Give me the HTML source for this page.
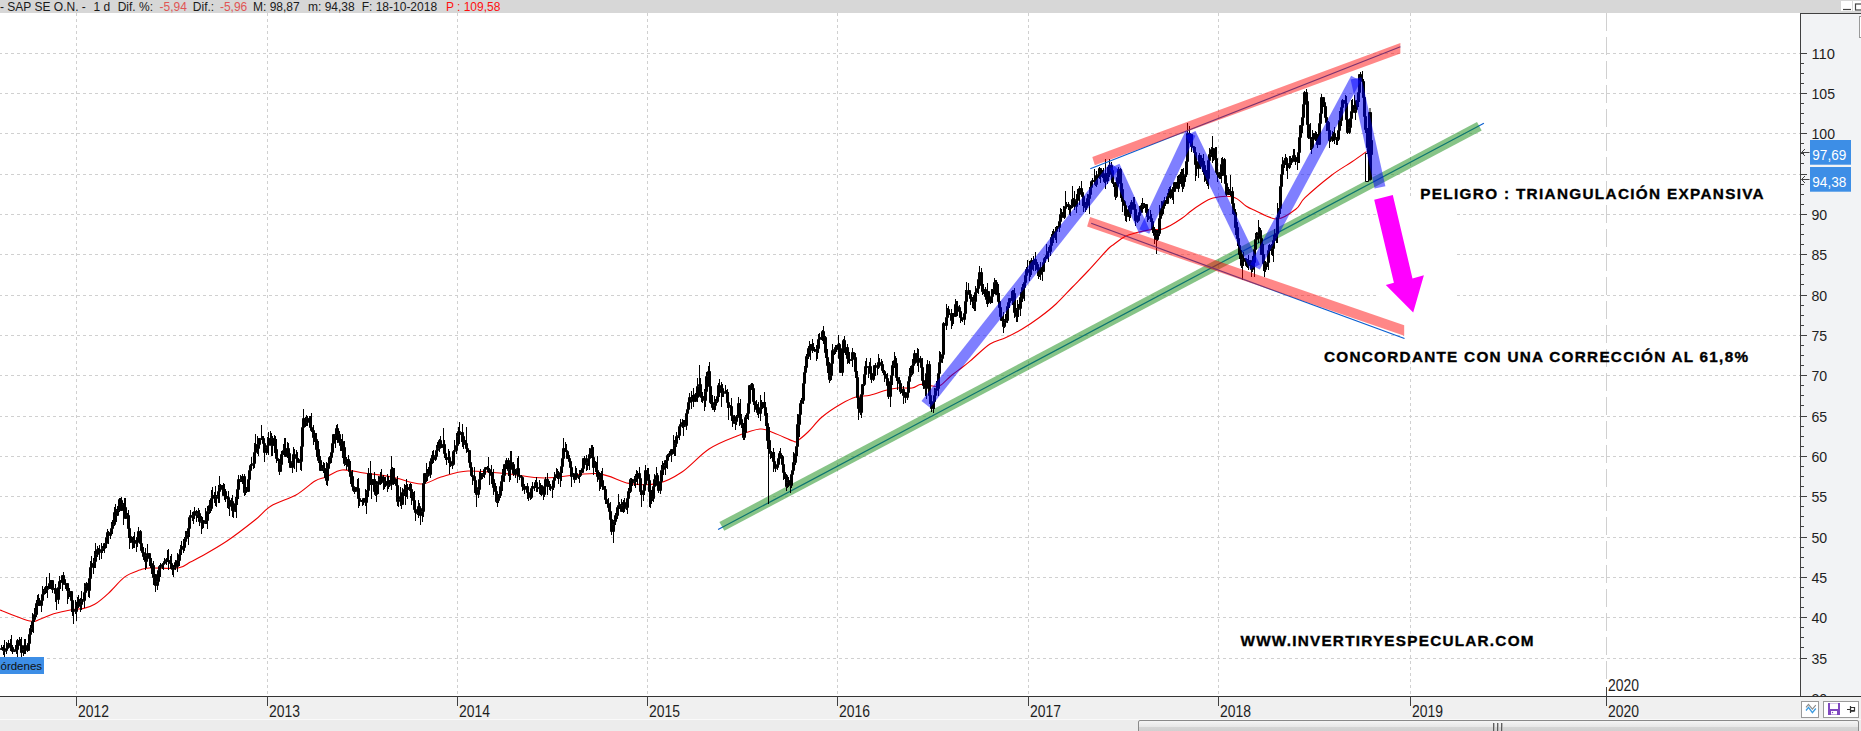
<!DOCTYPE html><html><head><meta charset="utf-8"><style>html,body{margin:0;padding:0;background:#fff;width:1861px;height:731px;overflow:hidden}svg{display:block;font-family:"Liberation Sans",sans-serif}</style></head><body>
<svg width="1861" height="731" viewBox="0 0 1861 731">
<rect x="0" y="0" width="1861" height="731" fill="#fff"/>
<path d="M-1 658.5H1800M-1 617.5H1800M-1 577.5H1800M-1 537.5H1800M-1 496.5H1800M-1 456.5H1800M-1 416.5H1800M-1 375.5H1800M-1 335.5H1800M-1 295.5H1800M-1 254.5H1800M-1 214.5H1800M-1 174.5H1800M-1 133.5H1800M-1 93.5H1800M-1 53.5H1800" stroke="#d0d0d0" stroke-width="1" stroke-dasharray="3 3" fill="none"/>
<path d="M76.5 13V696M267.5 13V696M457.5 13V696M647.5 13V696M837.5 13V696M1028.5 13V696M1218.5 13V696M1410.5 13V696" stroke="#d0d0d0" stroke-width="1" stroke-dasharray="3 3" fill="none"/>
<path d="M1606.5 13V680" stroke="#d0d0d0" stroke-width="1" stroke-dasharray="18 6" fill="none"/>
<rect x="1376" y="196" width="81" height="124" fill="#fff"/><rect x="1404" y="320" width="47" height="36" fill="#fff"/>
<line x1="718.1" y1="529.5" x2="1483.9" y2="123.3" stroke="#0a5fd0" stroke-width="1.2"/>
<polygon points="719.4,522.1 1477,122.1 1481.7,130.6 724.3,530.7" fill="#108a10" fill-opacity="0.5"/>
<path d="M0,610C5.0,611.8 23.3,619.5 30,621C36.7,622.5 36.0,620.5 40,619.3C44.0,618.1 48.5,615.4 53.7,613.8C59.0,612.2 66.5,610.6 71.5,609.7C76.5,608.8 79.9,609.3 83.8,608.4C87.7,607.5 90.6,606.8 94.7,604.3C98.8,601.8 103.4,597.9 108.4,593.3C113.4,588.7 119.6,580.8 124.8,576.9C130.0,573.0 135.7,571.6 139.8,570.1C143.9,568.6 143.0,568.4 149.4,568C155.8,567.6 171.3,569.0 178.1,568C184.9,567.0 186.8,563.7 190.4,561.9C194.1,560.1 193.9,560.6 200,557.1C206.1,553.6 217.8,547.2 227,541C236.2,534.8 247.7,525.8 255,520C262.3,514.2 264.2,510.2 271,506C277.8,501.8 288.7,499.2 296,495C303.3,490.8 310.0,484.0 315,481C320.0,478.0 321.5,478.8 326,477C330.5,475.2 335.7,470.7 342,470C348.3,469.3 355.7,471.8 364,473C372.3,474.2 382.5,475.2 392,477C401.5,478.8 412.8,484.0 421,484C429.2,484.0 433.2,479.2 441,477C448.8,474.8 456.7,471.5 468,471C479.3,470.5 496.2,472.8 509,474C521.8,475.2 530.3,478.1 545,478C559.7,477.9 583.0,472.7 597,473.6C611.0,474.5 618.8,481.8 629,483.4C639.2,485.0 649.2,485.3 658,483.4C666.8,481.5 673.5,477.7 682,472C690.5,466.3 699.8,455.0 709,449C718.2,443.0 728.5,439.3 737,436C745.5,432.7 753.8,429.5 760,429C766.2,428.5 768.5,431.0 774,433C779.5,435.0 789.2,439.7 793,441C796.8,442.3 794.5,442.5 797,441C799.5,439.5 803.8,436.0 808,432C812.2,428.0 816.5,421.7 822,417C827.5,412.3 835.3,407.3 841,404C846.7,400.7 851.2,398.4 856,397C860.8,395.6 865.0,396.4 870,395.3C875.0,394.2 881.3,391.5 886,390.3C890.7,389.1 893.7,388.4 898,388C902.3,387.6 908.3,388.6 912,388C915.7,387.4 917.5,385.0 920,384.5C922.5,384.0 924.3,384.7 927,385C929.7,385.3 933.7,386.5 936,386.5C938.3,386.5 938.3,386.9 941,385C943.7,383.1 948.3,378.0 952,375C955.7,372.0 959.5,369.6 963,366.8C966.5,364.1 968.5,362.3 973,358.5C977.5,354.7 984.5,347.5 990,344C995.5,340.5 1000.5,340.2 1006,337.6C1011.5,335.0 1017.5,331.8 1023,328.5C1028.5,325.2 1033.5,321.9 1039,317.8C1044.5,313.7 1050.5,309.1 1056,304C1061.5,298.9 1066.7,293.0 1072,287.5C1077.3,282.0 1082.0,277.4 1088,271C1094.0,264.6 1103.7,253.5 1108,249C1112.3,244.5 1111.2,246.3 1114,244.2C1116.8,242.1 1121.0,238.4 1125,236.4C1129.0,234.4 1133.5,233.5 1138,232.3C1142.5,231.1 1148.2,229.9 1152,229.4C1155.8,228.9 1158.0,230.0 1161,229.4C1164.0,228.8 1166.5,227.5 1170,225.7C1173.5,223.8 1178.7,220.6 1182,218.3C1185.3,216.0 1187.0,214.1 1190,211.8C1193.0,209.6 1196.2,207.1 1200,204.8C1203.8,202.5 1207.5,199.3 1213,198C1218.5,196.7 1227.5,195.7 1233,197C1238.5,198.3 1242.5,203.8 1246,206C1249.5,208.2 1248.8,207.8 1254,210C1259.2,212.2 1270.0,219.2 1277,219C1284.0,218.8 1291.3,212.6 1296,209C1300.7,205.4 1299.1,203.3 1305,197.7C1310.9,192.1 1323.8,181.2 1331.6,175.2C1339.4,169.2 1346.2,165.7 1352,161.8C1357.8,157.9 1364.1,153.3 1366.5,151.6" stroke="#ee0000" stroke-width="1.1" fill="none"/>
<g stroke="#000" stroke-width="1"><path d="M1.5 645V650M0.5 648.5h2V649.5h-2z" fill="#000"/><path d="M2.5 647V650M1.5 647.5h2V648.5h-2z" fill="#fff"/><path d="M3.5 645V655M2.5 647.5h2V650.5h-2z" fill="#000"/><path d="M4.5 640V663M3.5 650.5h2V651.5h-2z" fill="#fff"/><path d="M6.5 642V654M5.5 648.5h2V650.5h-2z" fill="#fff"/><path d="M7.5 644V649M6.5 643.5h2V648.5h-2z" fill="#fff"/><path d="M8.5 640V645M7.5 643.5h2V644.5h-2z" fill="#fff"/><path d="M10.5 639V651M9.5 643.5h2V647.5h-2z" fill="#000"/><path d="M11.5 635V649M10.5 647.5h2V648.5h-2z" fill="#000"/><path d="M12.5 645V654M11.5 647.5h2V651.5h-2z" fill="#000"/><path d="M14.5 650V652M13.5 650.5h2V651.5h-2z" fill="#fff"/><path d="M15.5 645V651M14.5 649.5h2V650.5h-2z" fill="#fff"/><path d="M16.5 646V654M15.5 649.5h2V650.5h-2z" fill="#000"/><path d="M17.5 639V657M16.5 640.5h2V649.5h-2z" fill="#fff"/><path d="M19.5 637V645M18.5 640.5h2V643.5h-2z" fill="#000"/><path d="M20.5 639V650M19.5 643.5h2V645.5h-2z" fill="#000"/><path d="M21.5 637V662M20.5 645.5h2V652.5h-2z" fill="#000"/><path d="M23.5 650V656M22.5 649.5h2V652.5h-2z" fill="#fff"/><path d="M24.5 639V654M23.5 645.5h2V649.5h-2z" fill="#fff"/><path d="M25.5 639V654M24.5 645.5h2V646.5h-2z" fill="#000"/><path d="M27.5 643V652M26.5 646.5h2V650.5h-2z" fill="#000"/><path d="M28.5 635V651M27.5 643.5h2V650.5h-2z" fill="#fff"/><path d="M29.5 629V645M28.5 634.5h2V643.5h-2z" fill="#fff"/><path d="M30.5 625V639M29.5 628.5h2V634.5h-2z" fill="#fff"/><path d="M32.5 613V632M31.5 621.5h2V628.5h-2z" fill="#fff"/><path d="M33.5 620V633M32.5 619.5h2V621.5h-2z" fill="#fff"/><path d="M34.5 608V622M33.5 614.5h2V619.5h-2z" fill="#fff"/><path d="M36.5 600V617M35.5 603.5h2V614.5h-2z" fill="#fff"/><path d="M37.5 595V609M36.5 603.5h2V605.5h-2z" fill="#000"/><path d="M38.5 594V606M37.5 601.5h2V605.5h-2z" fill="#fff"/><path d="M39.5 598V606M38.5 601.5h2V605.5h-2z" fill="#000"/><path d="M41.5 598V612M40.5 600.5h2V605.5h-2z" fill="#fff"/><path d="M42.5 586V601M41.5 594.5h2V600.5h-2z" fill="#fff"/><path d="M43.5 589V597M42.5 590.5h2V594.5h-2z" fill="#fff"/><path d="M45.5 586V594M44.5 587.5h2V590.5h-2z" fill="#fff"/><path d="M46.5 577V593M45.5 587.5h2V589.5h-2z" fill="#000"/><path d="M47.5 586V598M46.5 588.5h2V589.5h-2z" fill="#fff"/><path d="M49.5 573V588M48.5 583.5h2V588.5h-2z" fill="#fff"/><path d="M50.5 580V589M49.5 580.5h2V583.5h-2z" fill="#fff"/><path d="M51.5 580V587M50.5 580.5h2V581.5h-2z" fill="#000"/><path d="M52.5 580V593M51.5 580.5h2V589.5h-2z" fill="#000"/><path d="M54.5 589V592M53.5 588.5h2V589.5h-2z" fill="#fff"/><path d="M55.5 584V602M54.5 588.5h2V593.5h-2z" fill="#000"/><path d="M56.5 590V610M55.5 593.5h2V599.5h-2z" fill="#000"/><path d="M58.5 587V604M57.5 587.5h2V599.5h-2z" fill="#fff"/><path d="M59.5 576V590M58.5 581.5h2V587.5h-2z" fill="#fff"/><path d="M60.5 580V589M59.5 581.5h2V582.5h-2z" fill="#000"/><path d="M62.5 575V591M61.5 575.5h2V582.5h-2z" fill="#fff"/><path d="M63.5 572V580M62.5 575.5h2V579.5h-2z" fill="#000"/><path d="M64.5 579V585M63.5 579.5h2V584.5h-2z" fill="#000"/><path d="M65.5 583V589M64.5 583.5h2V584.5h-2z" fill="#fff"/><path d="M67.5 583V604M66.5 583.5h2V590.5h-2z" fill="#000"/><path d="M68.5 590V599M67.5 590.5h2V593.5h-2z" fill="#000"/><path d="M69.5 588V597M68.5 591.5h2V593.5h-2z" fill="#fff"/><path d="M71.5 591V612M70.5 591.5h2V600.5h-2z" fill="#000"/><path d="M72.5 595V616M71.5 600.5h2V609.5h-2z" fill="#000"/><path d="M73.5 602V624M72.5 609.5h2V610.5h-2z" fill="#000"/><path d="M75.5 600V614M74.5 610.5h2V611.5h-2z" fill="#000"/><path d="M76.5 602V621M75.5 605.5h2V611.5h-2z" fill="#fff"/><path d="M77.5 597V610M76.5 605.5h2V606.5h-2z" fill="#000"/><path d="M78.5 595V608M77.5 599.5h2V606.5h-2z" fill="#fff"/><path d="M80.5 598V612M79.5 599.5h2V604.5h-2z" fill="#000"/><path d="M81.5 591V610M80.5 601.5h2V604.5h-2z" fill="#fff"/><path d="M82.5 599V603M81.5 600.5h2V601.5h-2z" fill="#fff"/><path d="M84.5 583V608M83.5 592.5h2V600.5h-2z" fill="#fff"/><path d="M85.5 585V595M84.5 586.5h2V592.5h-2z" fill="#fff"/><path d="M86.5 582V587M85.5 583.5h2V586.5h-2z" fill="#fff"/><path d="M88.5 581V597M87.5 583.5h2V590.5h-2z" fill="#000"/><path d="M89.5 576V598M88.5 578.5h2V590.5h-2z" fill="#fff"/><path d="M90.5 561V582M89.5 567.5h2V578.5h-2z" fill="#fff"/><path d="M91.5 556V575M90.5 563.5h2V567.5h-2z" fill="#fff"/><path d="M93.5 558V574M92.5 563.5h2V564.5h-2z" fill="#000"/><path d="M94.5 551V568M93.5 561.5h2V563.5h-2z" fill="#fff"/><path d="M95.5 543V568M94.5 554.5h2V561.5h-2z" fill="#fff"/><path d="M97.5 546V557M96.5 549.5h2V554.5h-2z" fill="#fff"/><path d="M98.5 548V552M97.5 549.5h2V551.5h-2z" fill="#000"/><path d="M99.5 545V560M98.5 551.5h2V552.5h-2z" fill="#000"/><path d="M101.5 543V559M100.5 549.5h2V551.5h-2z" fill="#fff"/><path d="M102.5 546V553M101.5 548.5h2V549.5h-2z" fill="#fff"/><path d="M103.5 547V551M102.5 548.5h2V549.5h-2z" fill="#fff"/><path d="M104.5 543V553M103.5 543.5h2V548.5h-2z" fill="#fff"/><path d="M106.5 535V548M105.5 537.5h2V543.5h-2z" fill="#fff"/><path d="M107.5 529V538M106.5 532.5h2V537.5h-2z" fill="#fff"/><path d="M108.5 531V544M107.5 532.5h2V535.5h-2z" fill="#000"/><path d="M110.5 529V539M109.5 532.5h2V535.5h-2z" fill="#fff"/><path d="M111.5 522V534M110.5 528.5h2V532.5h-2z" fill="#fff"/><path d="M112.5 520V534M111.5 524.5h2V528.5h-2z" fill="#fff"/><path d="M114.5 507V526M113.5 512.5h2V524.5h-2z" fill="#fff"/><path d="M115.5 504V518M114.5 512.5h2V514.5h-2z" fill="#000"/><path d="M116.5 509V522M115.5 514.5h2V515.5h-2z" fill="#000"/><path d="M117.5 506V516M116.5 510.5h2V515.5h-2z" fill="#fff"/><path d="M119.5 498V512M118.5 499.5h2V510.5h-2z" fill="#fff"/><path d="M120.5 498V504M119.5 499.5h2V500.5h-2z" fill="#000"/><path d="M121.5 497V510M120.5 500.5h2V510.5h-2z" fill="#000"/><path d="M123.5 503V525M122.5 504.5h2V510.5h-2z" fill="#fff"/><path d="M124.5 498V508M123.5 504.5h2V507.5h-2z" fill="#000"/><path d="M125.5 498V519M124.5 507.5h2V518.5h-2z" fill="#000"/><path d="M127.5 513V524M126.5 515.5h2V518.5h-2z" fill="#fff"/><path d="M128.5 510V538M127.5 515.5h2V528.5h-2z" fill="#000"/><path d="M129.5 528V549M128.5 528.5h2V536.5h-2z" fill="#000"/><path d="M130.5 535V543M129.5 536.5h2V538.5h-2z" fill="#000"/><path d="M132.5 537V549M131.5 538.5h2V542.5h-2z" fill="#000"/><path d="M133.5 536V548M132.5 542.5h2V543.5h-2z" fill="#000"/><path d="M134.5 532V548M133.5 540.5h2V543.5h-2z" fill="#fff"/><path d="M136.5 537V552M135.5 540.5h2V542.5h-2z" fill="#000"/><path d="M137.5 533V547M136.5 537.5h2V542.5h-2z" fill="#fff"/><path d="M138.5 527V540M137.5 531.5h2V537.5h-2z" fill="#fff"/><path d="M140.5 530V545M139.5 531.5h2V543.5h-2z" fill="#000"/><path d="M141.5 542V551M140.5 543.5h2V550.5h-2z" fill="#000"/><path d="M142.5 549V556M141.5 550.5h2V552.5h-2z" fill="#000"/><path d="M143.5 547V560M142.5 552.5h2V556.5h-2z" fill="#000"/><path d="M145.5 548V570M144.5 556.5h2V561.5h-2z" fill="#000"/><path d="M146.5 555V568M145.5 555.5h2V561.5h-2z" fill="#fff"/><path d="M147.5 544V558M146.5 553.5h2V555.5h-2z" fill="#fff"/><path d="M149.5 553V566M148.5 553.5h2V558.5h-2z" fill="#000"/><path d="M150.5 556V568M149.5 558.5h2V563.5h-2z" fill="#000"/><path d="M151.5 558V574M150.5 563.5h2V565.5h-2z" fill="#000"/><path d="M153.5 561V585M152.5 565.5h2V577.5h-2z" fill="#000"/><path d="M154.5 572V583M153.5 574.5h2V577.5h-2z" fill="#fff"/><path d="M155.5 574V592M154.5 574.5h2V585.5h-2z" fill="#000"/><path d="M157.5 578V590M156.5 581.5h2V585.5h-2z" fill="#fff"/><path d="M158.5 568V585M157.5 570.5h2V581.5h-2z" fill="#fff"/><path d="M159.5 565V575M158.5 566.5h2V570.5h-2z" fill="#fff"/><path d="M160.5 563V577M159.5 566.5h2V567.5h-2z" fill="#fff"/><path d="M162.5 563V569M161.5 564.5h2V566.5h-2z" fill="#fff"/><path d="M163.5 564V570M162.5 563.5h2V564.5h-2z" fill="#fff"/><path d="M164.5 558V564M163.5 561.5h2V563.5h-2z" fill="#fff"/><path d="M166.5 558V565M165.5 559.5h2V561.5h-2z" fill="#fff"/><path d="M167.5 550V562M166.5 559.5h2V560.5h-2z" fill="#000"/><path d="M168.5 549V570M167.5 560.5h2V561.5h-2z" fill="#000"/><path d="M170.5 556V567M169.5 560.5h2V563.5h-2z" fill="#000"/><path d="M171.5 554V569M170.5 563.5h2V568.5h-2z" fill="#000"/><path d="M172.5 568V575M171.5 568.5h2V569.5h-2z" fill="#000"/><path d="M173.5 565V577M172.5 567.5h2V569.5h-2z" fill="#fff"/><path d="M175.5 560V570M174.5 562.5h2V567.5h-2z" fill="#fff"/><path d="M176.5 561V567M175.5 562.5h2V566.5h-2z" fill="#000"/><path d="M177.5 553V572M176.5 560.5h2V566.5h-2z" fill="#fff"/><path d="M179.5 553V566M178.5 554.5h2V560.5h-2z" fill="#fff"/><path d="M180.5 545V559M179.5 549.5h2V554.5h-2z" fill="#fff"/><path d="M181.5 541V555M180.5 546.5h2V549.5h-2z" fill="#fff"/><path d="M183.5 539V553M182.5 546.5h2V547.5h-2z" fill="#000"/><path d="M184.5 537V551M183.5 541.5h2V547.5h-2z" fill="#fff"/><path d="M185.5 531V546M184.5 538.5h2V541.5h-2z" fill="#fff"/><path d="M186.5 531V541M185.5 534.5h2V538.5h-2z" fill="#fff"/><path d="M188.5 526V545M187.5 528.5h2V534.5h-2z" fill="#fff"/><path d="M189.5 517V537M188.5 517.5h2V528.5h-2z" fill="#fff"/><path d="M190.5 510V524M189.5 515.5h2V517.5h-2z" fill="#fff"/><path d="M192.5 512V521M191.5 515.5h2V516.5h-2z" fill="#000"/><path d="M193.5 513V524M192.5 515.5h2V516.5h-2z" fill="#fff"/><path d="M194.5 507V519M193.5 511.5h2V515.5h-2z" fill="#fff"/><path d="M196.5 510V522M195.5 511.5h2V513.5h-2z" fill="#000"/><path d="M197.5 511V518M196.5 513.5h2V514.5h-2z" fill="#fff"/><path d="M198.5 508V517M197.5 513.5h2V514.5h-2z" fill="#fff"/><path d="M199.5 510V526M198.5 513.5h2V521.5h-2z" fill="#000"/><path d="M201.5 516V534M200.5 521.5h2V522.5h-2z" fill="#fff"/><path d="M202.5 517V529M201.5 520.5h2V521.5h-2z" fill="#fff"/><path d="M203.5 520V528M202.5 520.5h2V522.5h-2z" fill="#000"/><path d="M205.5 508V524M204.5 522.5h2V523.5h-2z" fill="#000"/><path d="M206.5 514V524M205.5 520.5h2V522.5h-2z" fill="#fff"/><path d="M207.5 506V529M206.5 511.5h2V520.5h-2z" fill="#fff"/><path d="M209.5 500V514M208.5 505.5h2V511.5h-2z" fill="#fff"/><path d="M210.5 500V513M209.5 505.5h2V508.5h-2z" fill="#000"/><path d="M211.5 490V511M210.5 498.5h2V508.5h-2z" fill="#fff"/><path d="M212.5 487V499M211.5 495.5h2V498.5h-2z" fill="#fff"/><path d="M214.5 492V503M213.5 495.5h2V497.5h-2z" fill="#000"/><path d="M215.5 486V506M214.5 497.5h2V498.5h-2z" fill="#000"/><path d="M216.5 495V507M215.5 496.5h2V498.5h-2z" fill="#fff"/><path d="M218.5 485V503M217.5 491.5h2V496.5h-2z" fill="#fff"/><path d="M219.5 476V503M218.5 487.5h2V491.5h-2z" fill="#fff"/><path d="M220.5 484V489M219.5 485.5h2V487.5h-2z" fill="#fff"/><path d="M222.5 485V495M221.5 485.5h2V489.5h-2z" fill="#000"/><path d="M223.5 483V496M222.5 489.5h2V495.5h-2z" fill="#000"/><path d="M224.5 484V500M223.5 491.5h2V495.5h-2z" fill="#fff"/><path d="M225.5 489V502M224.5 491.5h2V498.5h-2z" fill="#000"/><path d="M227.5 496V508M226.5 497.5h2V498.5h-2z" fill="#fff"/><path d="M228.5 491V509M227.5 497.5h2V506.5h-2z" fill="#000"/><path d="M229.5 499V516M228.5 500.5h2V506.5h-2z" fill="#fff"/><path d="M231.5 498V504M230.5 500.5h2V501.5h-2z" fill="#000"/><path d="M232.5 495V517M231.5 501.5h2V510.5h-2z" fill="#000"/><path d="M233.5 507V518M232.5 510.5h2V511.5h-2z" fill="#000"/><path d="M235.5 497V512M234.5 503.5h2V510.5h-2z" fill="#fff"/><path d="M236.5 496V518M235.5 498.5h2V503.5h-2z" fill="#fff"/><path d="M237.5 485V505M236.5 489.5h2V498.5h-2z" fill="#fff"/><path d="M238.5 475V499M237.5 479.5h2V489.5h-2z" fill="#fff"/><path d="M240.5 475V482M239.5 479.5h2V480.5h-2z" fill="#000"/><path d="M241.5 476V482M240.5 479.5h2V480.5h-2z" fill="#fff"/><path d="M242.5 474V484M241.5 476.5h2V479.5h-2z" fill="#fff"/><path d="M244.5 474V496M243.5 476.5h2V492.5h-2z" fill="#000"/><path d="M245.5 487V495M244.5 489.5h2V492.5h-2z" fill="#fff"/><path d="M246.5 487V493M245.5 489.5h2V491.5h-2z" fill="#000"/><path d="M248.5 471V491M247.5 479.5h2V491.5h-2z" fill="#fff"/><path d="M249.5 469V483M248.5 470.5h2V479.5h-2z" fill="#fff"/><path d="M250.5 464V476M249.5 465.5h2V470.5h-2z" fill="#fff"/><path d="M251.5 457V469M250.5 464.5h2V465.5h-2z" fill="#fff"/><path d="M253.5 461V469M252.5 463.5h2V464.5h-2z" fill="#fff"/><path d="M254.5 443V468M253.5 452.5h2V463.5h-2z" fill="#fff"/><path d="M255.5 434V456M254.5 444.5h2V452.5h-2z" fill="#fff"/><path d="M257.5 436V454M256.5 444.5h2V448.5h-2z" fill="#000"/><path d="M258.5 438V456M257.5 444.5h2V448.5h-2z" fill="#fff"/><path d="M259.5 438V445M258.5 438.5h2V444.5h-2z" fill="#fff"/><path d="M261.5 425V440M260.5 438.5h2V439.5h-2z" fill="#fff"/><path d="M262.5 436V443M261.5 438.5h2V439.5h-2z" fill="#000"/><path d="M263.5 436V445M262.5 438.5h2V443.5h-2z" fill="#000"/><path d="M264.5 442V462M263.5 443.5h2V452.5h-2z" fill="#000"/><path d="M266.5 446V455M265.5 447.5h2V452.5h-2z" fill="#fff"/><path d="M267.5 437V453M266.5 445.5h2V447.5h-2z" fill="#fff"/><path d="M268.5 432V455M267.5 438.5h2V445.5h-2z" fill="#fff"/><path d="M270.5 431V445M269.5 438.5h2V439.5h-2z" fill="#000"/><path d="M271.5 433V456M270.5 438.5h2V445.5h-2z" fill="#000"/><path d="M272.5 436V456M271.5 438.5h2V445.5h-2z" fill="#fff"/><path d="M274.5 435V453M273.5 438.5h2V445.5h-2z" fill="#000"/><path d="M275.5 436V452M274.5 445.5h2V449.5h-2z" fill="#000"/><path d="M276.5 439V463M275.5 449.5h2V458.5h-2z" fill="#000"/><path d="M277.5 454V461M276.5 458.5h2V459.5h-2z" fill="#000"/><path d="M279.5 459V475M278.5 459.5h2V471.5h-2z" fill="#000"/><path d="M280.5 463V472M279.5 464.5h2V471.5h-2z" fill="#fff"/><path d="M281.5 451V465M280.5 454.5h2V464.5h-2z" fill="#fff"/><path d="M283.5 444V455M282.5 450.5h2V454.5h-2z" fill="#fff"/><path d="M284.5 438V453M283.5 448.5h2V450.5h-2z" fill="#fff"/><path d="M285.5 438V457M284.5 448.5h2V456.5h-2z" fill="#000"/><path d="M287.5 442V458M286.5 448.5h2V456.5h-2z" fill="#fff"/><path d="M288.5 443V463M287.5 448.5h2V453.5h-2z" fill="#000"/><path d="M289.5 450V465M288.5 453.5h2V461.5h-2z" fill="#000"/><path d="M290.5 459V468M289.5 461.5h2V467.5h-2z" fill="#000"/><path d="M292.5 458V473M291.5 462.5h2V467.5h-2z" fill="#fff"/><path d="M293.5 447V464M292.5 454.5h2V462.5h-2z" fill="#fff"/><path d="M294.5 449V469M293.5 454.5h2V457.5h-2z" fill="#000"/><path d="M296.5 450V472M295.5 457.5h2V458.5h-2z" fill="#000"/><path d="M297.5 452V460M296.5 458.5h2V459.5h-2z" fill="#000"/><path d="M298.5 458V463M297.5 459.5h2V462.5h-2z" fill="#000"/><path d="M300.5 460V470M299.5 461.5h2V462.5h-2z" fill="#fff"/><path d="M301.5 441V471M300.5 446.5h2V461.5h-2z" fill="#fff"/><path d="M302.5 424V451M301.5 427.5h2V446.5h-2z" fill="#fff"/><path d="M303.5 409V429M302.5 418.5h2V427.5h-2z" fill="#fff"/><path d="M305.5 417V427M304.5 418.5h2V420.5h-2z" fill="#000"/><path d="M306.5 415V426M305.5 420.5h2V422.5h-2z" fill="#000"/><path d="M307.5 416V426M306.5 418.5h2V422.5h-2z" fill="#fff"/><path d="M309.5 416V425M308.5 418.5h2V419.5h-2z" fill="#000"/><path d="M310.5 416V428M309.5 419.5h2V427.5h-2z" fill="#000"/><path d="M311.5 413V432M310.5 427.5h2V430.5h-2z" fill="#000"/><path d="M313.5 425V445M312.5 430.5h2V437.5h-2z" fill="#000"/><path d="M314.5 433V442M313.5 434.5h2V437.5h-2z" fill="#fff"/><path d="M315.5 433V446M314.5 434.5h2V439.5h-2z" fill="#000"/><path d="M316.5 433V457M315.5 439.5h2V449.5h-2z" fill="#000"/><path d="M318.5 441V463M317.5 449.5h2V460.5h-2z" fill="#000"/><path d="M319.5 455V466M318.5 460.5h2V461.5h-2z" fill="#fff"/><path d="M320.5 456V471M319.5 460.5h2V470.5h-2z" fill="#000"/><path d="M322.5 465V470M321.5 468.5h2V470.5h-2z" fill="#fff"/><path d="M323.5 462V473M322.5 468.5h2V469.5h-2z" fill="#000"/><path d="M324.5 463V478M323.5 468.5h2V469.5h-2z" fill="#fff"/><path d="M326.5 462V485M325.5 468.5h2V480.5h-2z" fill="#000"/><path d="M327.5 463V486M326.5 468.5h2V480.5h-2z" fill="#fff"/><path d="M328.5 461V476M327.5 463.5h2V468.5h-2z" fill="#fff"/><path d="M329.5 456V467M328.5 457.5h2V463.5h-2z" fill="#fff"/><path d="M331.5 449V463M330.5 452.5h2V457.5h-2z" fill="#fff"/><path d="M332.5 443V455M331.5 443.5h2V452.5h-2z" fill="#fff"/><path d="M333.5 434V445M332.5 434.5h2V443.5h-2z" fill="#fff"/><path d="M335.5 433V448M334.5 434.5h2V435.5h-2z" fill="#000"/><path d="M336.5 425V440M335.5 428.5h2V435.5h-2z" fill="#fff"/><path d="M337.5 424V443M336.5 428.5h2V434.5h-2z" fill="#000"/><path d="M339.5 431V444M338.5 434.5h2V442.5h-2z" fill="#000"/><path d="M340.5 440V451M339.5 442.5h2V445.5h-2z" fill="#000"/><path d="M341.5 439V451M340.5 441.5h2V445.5h-2z" fill="#fff"/><path d="M342.5 434V458M341.5 441.5h2V447.5h-2z" fill="#000"/><path d="M344.5 441V466M343.5 447.5h2V463.5h-2z" fill="#000"/><path d="M345.5 460V465M344.5 463.5h2V464.5h-2z" fill="#fff"/><path d="M346.5 457V470M345.5 459.5h2V463.5h-2z" fill="#fff"/><path d="M348.5 455V469M347.5 459.5h2V466.5h-2z" fill="#000"/><path d="M349.5 461V472M348.5 466.5h2V471.5h-2z" fill="#000"/><path d="M350.5 461V484M349.5 471.5h2V476.5h-2z" fill="#000"/><path d="M352.5 470V487M351.5 476.5h2V486.5h-2z" fill="#000"/><path d="M353.5 484V492M352.5 486.5h2V490.5h-2z" fill="#000"/><path d="M354.5 488V494M353.5 490.5h2V491.5h-2z" fill="#000"/><path d="M355.5 487V492M354.5 487.5h2V491.5h-2z" fill="#fff"/><path d="M357.5 479V489M356.5 487.5h2V488.5h-2z" fill="#000"/><path d="M358.5 478V508M357.5 488.5h2V498.5h-2z" fill="#000"/><path d="M359.5 489V506M358.5 498.5h2V500.5h-2z" fill="#000"/><path d="M361.5 500V502M360.5 500.5h2V501.5h-2z" fill="#000"/><path d="M362.5 500V506M361.5 500.5h2V501.5h-2z" fill="#000"/><path d="M363.5 498V505M362.5 498.5h2V501.5h-2z" fill="#fff"/><path d="M365.5 489V506M364.5 498.5h2V502.5h-2z" fill="#000"/><path d="M366.5 490V514M365.5 492.5h2V502.5h-2z" fill="#fff"/><path d="M367.5 490V495M366.5 490.5h2V492.5h-2z" fill="#fff"/><path d="M368.5 468V497M367.5 473.5h2V490.5h-2z" fill="#fff"/><path d="M370.5 461V485M369.5 473.5h2V481.5h-2z" fill="#000"/><path d="M371.5 481V499M370.5 481.5h2V484.5h-2z" fill="#000"/><path d="M372.5 480V485M371.5 479.5h2V484.5h-2z" fill="#fff"/><path d="M374.5 472V492M373.5 479.5h2V491.5h-2z" fill="#000"/><path d="M375.5 490V496M374.5 491.5h2V494.5h-2z" fill="#000"/><path d="M376.5 481V502M375.5 484.5h2V494.5h-2z" fill="#fff"/><path d="M378.5 476V494M377.5 481.5h2V484.5h-2z" fill="#fff"/><path d="M379.5 477V482M378.5 479.5h2V481.5h-2z" fill="#fff"/><path d="M380.5 472V485M379.5 476.5h2V479.5h-2z" fill="#fff"/><path d="M381.5 469V484M380.5 476.5h2V481.5h-2z" fill="#000"/><path d="M383.5 475V490M382.5 481.5h2V482.5h-2z" fill="#000"/><path d="M384.5 477V489M383.5 482.5h2V483.5h-2z" fill="#000"/><path d="M385.5 477V487M384.5 481.5h2V482.5h-2z" fill="#fff"/><path d="M387.5 474V492M386.5 481.5h2V485.5h-2z" fill="#000"/><path d="M388.5 476V489M387.5 485.5h2V486.5h-2z" fill="#fff"/><path d="M389.5 480V487M388.5 484.5h2V485.5h-2z" fill="#fff"/><path d="M391.5 456V490M390.5 469.5h2V484.5h-2z" fill="#fff"/><path d="M392.5 467V481M391.5 469.5h2V471.5h-2z" fill="#000"/><path d="M393.5 468V485M392.5 471.5h2V478.5h-2z" fill="#000"/><path d="M394.5 468V484M393.5 478.5h2V482.5h-2z" fill="#000"/><path d="M396.5 479V489M395.5 482.5h2V485.5h-2z" fill="#000"/><path d="M397.5 476V506M396.5 485.5h2V501.5h-2z" fill="#000"/><path d="M398.5 493V507M397.5 499.5h2V501.5h-2z" fill="#fff"/><path d="M400.5 487V506M399.5 496.5h2V499.5h-2z" fill="#fff"/><path d="M401.5 495V509M400.5 496.5h2V504.5h-2z" fill="#000"/><path d="M402.5 488V505M401.5 492.5h2V504.5h-2z" fill="#fff"/><path d="M404.5 484V496M403.5 489.5h2V492.5h-2z" fill="#fff"/><path d="M405.5 485V505M404.5 489.5h2V494.5h-2z" fill="#000"/><path d="M406.5 479V497M405.5 489.5h2V494.5h-2z" fill="#fff"/><path d="M407.5 484V499M406.5 487.5h2V489.5h-2z" fill="#fff"/><path d="M409.5 484V491M408.5 487.5h2V489.5h-2z" fill="#000"/><path d="M410.5 483V498M409.5 489.5h2V490.5h-2z" fill="#fff"/><path d="M411.5 484V505M410.5 489.5h2V493.5h-2z" fill="#000"/><path d="M413.5 492V502M412.5 493.5h2V500.5h-2z" fill="#000"/><path d="M414.5 491V512M413.5 500.5h2V509.5h-2z" fill="#000"/><path d="M415.5 506V521M414.5 509.5h2V512.5h-2z" fill="#000"/><path d="M417.5 509V515M416.5 512.5h2V513.5h-2z" fill="#000"/><path d="M418.5 500V518M417.5 506.5h2V513.5h-2z" fill="#fff"/><path d="M419.5 503V509M418.5 506.5h2V508.5h-2z" fill="#000"/><path d="M420.5 508V525M419.5 508.5h2V515.5h-2z" fill="#000"/><path d="M422.5 510V522M421.5 511.5h2V515.5h-2z" fill="#fff"/><path d="M423.5 475V517M422.5 483.5h2V511.5h-2z" fill="#fff"/><path d="M424.5 473V488M423.5 473.5h2V483.5h-2z" fill="#fff"/><path d="M426.5 463V482M425.5 473.5h2V476.5h-2z" fill="#000"/><path d="M427.5 469V481M426.5 474.5h2V476.5h-2z" fill="#fff"/><path d="M428.5 467V476M427.5 474.5h2V475.5h-2z" fill="#fff"/><path d="M430.5 460V478M429.5 461.5h2V474.5h-2z" fill="#fff"/><path d="M431.5 455V469M430.5 458.5h2V461.5h-2z" fill="#fff"/><path d="M432.5 451V464M431.5 455.5h2V458.5h-2z" fill="#fff"/><path d="M433.5 450V463M432.5 455.5h2V459.5h-2z" fill="#000"/><path d="M435.5 456V461M434.5 456.5h2V459.5h-2z" fill="#fff"/><path d="M436.5 445V457M435.5 450.5h2V456.5h-2z" fill="#fff"/><path d="M437.5 442V456M436.5 448.5h2V450.5h-2z" fill="#fff"/><path d="M439.5 439V452M438.5 440.5h2V448.5h-2z" fill="#fff"/><path d="M440.5 436V447M439.5 440.5h2V444.5h-2z" fill="#000"/><path d="M441.5 443V447M440.5 444.5h2V447.5h-2z" fill="#000"/><path d="M443.5 428V451M442.5 444.5h2V447.5h-2z" fill="#fff"/><path d="M444.5 440V458M443.5 444.5h2V453.5h-2z" fill="#000"/><path d="M445.5 450V460M444.5 453.5h2V457.5h-2z" fill="#000"/><path d="M446.5 457V465M445.5 457.5h2V459.5h-2z" fill="#000"/><path d="M448.5 449V463M447.5 457.5h2V459.5h-2z" fill="#fff"/><path d="M449.5 451V474M448.5 457.5h2V461.5h-2z" fill="#000"/><path d="M450.5 462V467M449.5 461.5h2V465.5h-2z" fill="#000"/><path d="M452.5 463V469M451.5 464.5h2V465.5h-2z" fill="#fff"/><path d="M453.5 450V465M452.5 451.5h2V464.5h-2z" fill="#fff"/><path d="M454.5 440V455M453.5 450.5h2V451.5h-2z" fill="#fff"/><path d="M456.5 433V454M455.5 445.5h2V450.5h-2z" fill="#fff"/><path d="M457.5 435V447M456.5 436.5h2V445.5h-2z" fill="#fff"/><path d="M458.5 427V440M457.5 431.5h2V436.5h-2z" fill="#fff"/><path d="M459.5 422V444M458.5 431.5h2V434.5h-2z" fill="#000"/><path d="M461.5 433V442M460.5 432.5h2V434.5h-2z" fill="#fff"/><path d="M462.5 424V447M461.5 432.5h2V436.5h-2z" fill="#000"/><path d="M463.5 434V449M462.5 436.5h2V444.5h-2z" fill="#000"/><path d="M465.5 440V445M464.5 443.5h2V444.5h-2z" fill="#fff"/><path d="M466.5 427V453M465.5 443.5h2V448.5h-2z" fill="#000"/><path d="M467.5 449V452M466.5 448.5h2V450.5h-2z" fill="#000"/><path d="M469.5 450V467M468.5 450.5h2V462.5h-2z" fill="#000"/><path d="M470.5 452V474M469.5 462.5h2V467.5h-2z" fill="#000"/><path d="M471.5 466V477M470.5 467.5h2V475.5h-2z" fill="#000"/><path d="M472.5 474V485M471.5 475.5h2V476.5h-2z" fill="#000"/><path d="M474.5 467V493M473.5 476.5h2V480.5h-2z" fill="#000"/><path d="M475.5 478V489M474.5 480.5h2V487.5h-2z" fill="#000"/><path d="M476.5 487V507M475.5 487.5h2V494.5h-2z" fill="#000"/><path d="M478.5 487V498M477.5 489.5h2V494.5h-2z" fill="#fff"/><path d="M479.5 472V494M478.5 479.5h2V489.5h-2z" fill="#fff"/><path d="M480.5 469V483M479.5 473.5h2V479.5h-2z" fill="#fff"/><path d="M482.5 473V479M481.5 473.5h2V476.5h-2z" fill="#000"/><path d="M483.5 471V477M482.5 474.5h2V476.5h-2z" fill="#fff"/><path d="M484.5 469V478M483.5 469.5h2V474.5h-2z" fill="#fff"/><path d="M485.5 467V470M484.5 467.5h2V469.5h-2z" fill="#fff"/><path d="M487.5 466V472M486.5 467.5h2V468.5h-2z" fill="#000"/><path d="M488.5 457V473M487.5 468.5h2V469.5h-2z" fill="#000"/><path d="M489.5 468V485M488.5 469.5h2V472.5h-2z" fill="#000"/><path d="M491.5 465V484M490.5 472.5h2V475.5h-2z" fill="#000"/><path d="M492.5 472V484M491.5 475.5h2V479.5h-2z" fill="#000"/><path d="M493.5 469V495M492.5 479.5h2V487.5h-2z" fill="#000"/><path d="M495.5 483V498M494.5 487.5h2V491.5h-2z" fill="#000"/><path d="M496.5 486V503M495.5 491.5h2V501.5h-2z" fill="#000"/><path d="M497.5 498V507M496.5 500.5h2V501.5h-2z" fill="#fff"/><path d="M498.5 494V503M497.5 495.5h2V500.5h-2z" fill="#fff"/><path d="M500.5 487V498M499.5 486.5h2V495.5h-2z" fill="#fff"/><path d="M501.5 480V494M500.5 481.5h2V486.5h-2z" fill="#fff"/><path d="M502.5 469V491M501.5 475.5h2V481.5h-2z" fill="#fff"/><path d="M504.5 464V482M503.5 464.5h2V475.5h-2z" fill="#fff"/><path d="M505.5 462V469M504.5 464.5h2V465.5h-2z" fill="#000"/><path d="M506.5 458V469M505.5 460.5h2V464.5h-2z" fill="#fff"/><path d="M508.5 458V476M507.5 460.5h2V470.5h-2z" fill="#000"/><path d="M509.5 465V482M508.5 469.5h2V470.5h-2z" fill="#fff"/><path d="M510.5 451V480M509.5 462.5h2V469.5h-2z" fill="#fff"/><path d="M511.5 451V468M510.5 462.5h2V464.5h-2z" fill="#000"/><path d="M513.5 462V476M512.5 464.5h2V473.5h-2z" fill="#000"/><path d="M514.5 469V475M513.5 473.5h2V474.5h-2z" fill="#000"/><path d="M515.5 470V478M514.5 469.5h2V474.5h-2z" fill="#fff"/><path d="M517.5 458V483M516.5 468.5h2V469.5h-2z" fill="#fff"/><path d="M518.5 456V476M517.5 468.5h2V475.5h-2z" fill="#000"/><path d="M519.5 472V480M518.5 475.5h2V476.5h-2z" fill="#000"/><path d="M521.5 475V479M520.5 476.5h2V477.5h-2z" fill="#000"/><path d="M522.5 477V491M521.5 477.5h2V486.5h-2z" fill="#000"/><path d="M523.5 486V490M522.5 486.5h2V489.5h-2z" fill="#000"/><path d="M524.5 484V494M523.5 486.5h2V489.5h-2z" fill="#fff"/><path d="M526.5 486V488M525.5 486.5h2V487.5h-2z" fill="#000"/><path d="M527.5 483V499M526.5 486.5h2V492.5h-2z" fill="#000"/><path d="M528.5 491V501M527.5 492.5h2V495.5h-2z" fill="#000"/><path d="M530.5 492V500M529.5 495.5h2V497.5h-2z" fill="#000"/><path d="M531.5 486V499M530.5 488.5h2V497.5h-2z" fill="#fff"/><path d="M532.5 482V497M531.5 486.5h2V488.5h-2z" fill="#fff"/><path d="M534.5 485V491M533.5 486.5h2V487.5h-2z" fill="#000"/><path d="M535.5 480V488M534.5 482.5h2V486.5h-2z" fill="#fff"/><path d="M536.5 477V492M535.5 482.5h2V487.5h-2z" fill="#000"/><path d="M537.5 486V492M536.5 487.5h2V488.5h-2z" fill="#fff"/><path d="M539.5 480V494M538.5 487.5h2V488.5h-2z" fill="#000"/><path d="M540.5 483V495M539.5 485.5h2V488.5h-2z" fill="#fff"/><path d="M541.5 485V496M540.5 485.5h2V493.5h-2z" fill="#000"/><path d="M543.5 493V500M542.5 493.5h2V494.5h-2z" fill="#000"/><path d="M544.5 486V497M543.5 486.5h2V494.5h-2z" fill="#fff"/><path d="M545.5 477V491M544.5 479.5h2V486.5h-2z" fill="#fff"/><path d="M547.5 473V495M546.5 479.5h2V485.5h-2z" fill="#000"/><path d="M548.5 484V486M547.5 485.5h2V486.5h-2z" fill="#000"/><path d="M549.5 481V490M548.5 485.5h2V486.5h-2z" fill="#000"/><path d="M550.5 484V491M549.5 486.5h2V487.5h-2z" fill="#000"/><path d="M552.5 483V498M551.5 487.5h2V488.5h-2z" fill="#000"/><path d="M553.5 478V490M552.5 480.5h2V487.5h-2z" fill="#fff"/><path d="M554.5 472V486M553.5 477.5h2V480.5h-2z" fill="#fff"/><path d="M556.5 468V477M555.5 474.5h2V477.5h-2z" fill="#fff"/><path d="M557.5 469V479M556.5 474.5h2V477.5h-2z" fill="#000"/><path d="M558.5 471V484M557.5 477.5h2V478.5h-2z" fill="#000"/><path d="M560.5 469V487M559.5 472.5h2V477.5h-2z" fill="#fff"/><path d="M561.5 463V481M560.5 466.5h2V472.5h-2z" fill="#fff"/><path d="M562.5 452V473M561.5 458.5h2V466.5h-2z" fill="#fff"/><path d="M563.5 438V463M562.5 448.5h2V458.5h-2z" fill="#fff"/><path d="M565.5 442V452M564.5 448.5h2V450.5h-2z" fill="#000"/><path d="M566.5 444V452M565.5 450.5h2V451.5h-2z" fill="#000"/><path d="M567.5 451V459M566.5 451.5h2V458.5h-2z" fill="#000"/><path d="M569.5 455V462M568.5 458.5h2V461.5h-2z" fill="#000"/><path d="M570.5 460V469M569.5 461.5h2V467.5h-2z" fill="#000"/><path d="M571.5 467V487M570.5 467.5h2V476.5h-2z" fill="#000"/><path d="M573.5 473V477M572.5 475.5h2V476.5h-2z" fill="#fff"/><path d="M574.5 475V483M573.5 475.5h2V479.5h-2z" fill="#000"/><path d="M575.5 466V480M574.5 473.5h2V479.5h-2z" fill="#fff"/><path d="M576.5 468V479M575.5 473.5h2V476.5h-2z" fill="#000"/><path d="M578.5 475V479M577.5 476.5h2V477.5h-2z" fill="#000"/><path d="M579.5 470V483M578.5 475.5h2V476.5h-2z" fill="#fff"/><path d="M580.5 470V477M579.5 472.5h2V475.5h-2z" fill="#fff"/><path d="M582.5 462V472M581.5 468.5h2V472.5h-2z" fill="#fff"/><path d="M583.5 458V471M582.5 458.5h2V468.5h-2z" fill="#fff"/><path d="M584.5 456V466M583.5 458.5h2V464.5h-2z" fill="#000"/><path d="M586.5 455V471M585.5 463.5h2V464.5h-2z" fill="#fff"/><path d="M587.5 459V470M586.5 462.5h2V463.5h-2z" fill="#fff"/><path d="M588.5 459V466M587.5 458.5h2V462.5h-2z" fill="#fff"/><path d="M589.5 448V470M588.5 454.5h2V458.5h-2z" fill="#fff"/><path d="M591.5 445V458M590.5 448.5h2V454.5h-2z" fill="#fff"/><path d="M592.5 445V463M591.5 448.5h2V457.5h-2z" fill="#000"/><path d="M593.5 447V475M592.5 457.5h2V467.5h-2z" fill="#000"/><path d="M595.5 461V472M594.5 462.5h2V467.5h-2z" fill="#fff"/><path d="M596.5 462V475M595.5 462.5h2V470.5h-2z" fill="#000"/><path d="M597.5 456V482M596.5 470.5h2V476.5h-2z" fill="#000"/><path d="M599.5 472V491M598.5 476.5h2V479.5h-2z" fill="#000"/><path d="M600.5 473V489M599.5 477.5h2V479.5h-2z" fill="#fff"/><path d="M601.5 471V482M600.5 477.5h2V480.5h-2z" fill="#000"/><path d="M602.5 468V490M601.5 480.5h2V486.5h-2z" fill="#000"/><path d="M604.5 487V495M603.5 486.5h2V489.5h-2z" fill="#000"/><path d="M605.5 486V504M604.5 489.5h2V499.5h-2z" fill="#000"/><path d="M606.5 498V504M605.5 499.5h2V503.5h-2z" fill="#000"/><path d="M608.5 498V510M607.5 503.5h2V507.5h-2z" fill="#000"/><path d="M609.5 504V512M608.5 507.5h2V511.5h-2z" fill="#000"/><path d="M610.5 502V522M609.5 511.5h2V519.5h-2z" fill="#000"/><path d="M611.5 513V535M610.5 519.5h2V531.5h-2z" fill="#000"/><path d="M613.5 520V543M612.5 524.5h2V531.5h-2z" fill="#fff"/><path d="M614.5 520V525M613.5 521.5h2V524.5h-2z" fill="#fff"/><path d="M615.5 513V525M614.5 515.5h2V521.5h-2z" fill="#fff"/><path d="M617.5 506V519M616.5 507.5h2V515.5h-2z" fill="#fff"/><path d="M618.5 494V511M617.5 505.5h2V507.5h-2z" fill="#fff"/><path d="M619.5 502V509M618.5 504.5h2V505.5h-2z" fill="#fff"/><path d="M621.5 499V512M620.5 504.5h2V511.5h-2z" fill="#000"/><path d="M622.5 502V512M621.5 505.5h2V511.5h-2z" fill="#fff"/><path d="M623.5 500V513M622.5 502.5h2V505.5h-2z" fill="#fff"/><path d="M624.5 498V512M623.5 502.5h2V507.5h-2z" fill="#000"/><path d="M626.5 501V510M625.5 507.5h2V508.5h-2z" fill="#000"/><path d="M627.5 498V514M626.5 498.5h2V507.5h-2z" fill="#fff"/><path d="M628.5 488V499M627.5 491.5h2V498.5h-2z" fill="#fff"/><path d="M630.5 478V493M629.5 479.5h2V491.5h-2z" fill="#fff"/><path d="M631.5 478V486M630.5 479.5h2V480.5h-2z" fill="#fff"/><path d="M632.5 479V486M631.5 479.5h2V482.5h-2z" fill="#000"/><path d="M634.5 476V486M633.5 481.5h2V482.5h-2z" fill="#fff"/><path d="M635.5 474V488M634.5 477.5h2V481.5h-2z" fill="#fff"/><path d="M636.5 470V482M635.5 477.5h2V478.5h-2z" fill="#fff"/><path d="M637.5 471V485M636.5 473.5h2V477.5h-2z" fill="#fff"/><path d="M639.5 467V480M638.5 473.5h2V478.5h-2z" fill="#000"/><path d="M640.5 474V495M639.5 478.5h2V491.5h-2z" fill="#000"/><path d="M641.5 490V498M640.5 491.5h2V494.5h-2z" fill="#000"/><path d="M643.5 489V501M642.5 490.5h2V494.5h-2z" fill="#fff"/><path d="M644.5 480V495M643.5 484.5h2V490.5h-2z" fill="#fff"/><path d="M645.5 465V485M644.5 470.5h2V484.5h-2z" fill="#fff"/><path d="M647.5 468V477M646.5 470.5h2V474.5h-2z" fill="#000"/><path d="M648.5 468V483M647.5 474.5h2V480.5h-2z" fill="#000"/><path d="M649.5 477V507M648.5 480.5h2V491.5h-2z" fill="#000"/><path d="M650.5 489V508M649.5 491.5h2V498.5h-2z" fill="#000"/><path d="M652.5 497V501M651.5 498.5h2V499.5h-2z" fill="#fff"/><path d="M653.5 483V502M652.5 486.5h2V498.5h-2z" fill="#fff"/><path d="M654.5 474V489M653.5 479.5h2V486.5h-2z" fill="#fff"/><path d="M656.5 467V483M655.5 475.5h2V479.5h-2z" fill="#fff"/><path d="M657.5 473V488M656.5 475.5h2V485.5h-2z" fill="#000"/><path d="M658.5 477V493M657.5 485.5h2V490.5h-2z" fill="#000"/><path d="M660.5 478V494M659.5 481.5h2V490.5h-2z" fill="#fff"/><path d="M661.5 465V488M660.5 470.5h2V481.5h-2z" fill="#fff"/><path d="M662.5 461V477M661.5 469.5h2V470.5h-2z" fill="#fff"/><path d="M663.5 463V475M662.5 465.5h2V469.5h-2z" fill="#fff"/><path d="M665.5 460V475M664.5 460.5h2V465.5h-2z" fill="#fff"/><path d="M666.5 460V468M665.5 460.5h2V461.5h-2z" fill="#000"/><path d="M667.5 454V469M666.5 455.5h2V460.5h-2z" fill="#fff"/><path d="M669.5 451V457M668.5 453.5h2V455.5h-2z" fill="#fff"/><path d="M670.5 453V455M669.5 453.5h2V454.5h-2z" fill="#000"/><path d="M671.5 449V462M670.5 449.5h2V454.5h-2z" fill="#fff"/><path d="M673.5 435V454M672.5 449.5h2V453.5h-2z" fill="#000"/><path d="M674.5 440V456M673.5 445.5h2V453.5h-2z" fill="#fff"/><path d="M675.5 442V456M674.5 443.5h2V445.5h-2z" fill="#fff"/><path d="M676.5 432V447M675.5 436.5h2V443.5h-2z" fill="#fff"/><path d="M678.5 430V438M677.5 435.5h2V436.5h-2z" fill="#fff"/><path d="M679.5 426V440M678.5 426.5h2V435.5h-2z" fill="#fff"/><path d="M680.5 419V431M679.5 424.5h2V426.5h-2z" fill="#fff"/><path d="M682.5 419V428M681.5 422.5h2V424.5h-2z" fill="#fff"/><path d="M683.5 420V436M682.5 422.5h2V425.5h-2z" fill="#000"/><path d="M684.5 420V427M683.5 425.5h2V426.5h-2z" fill="#fff"/><path d="M686.5 412V430M685.5 413.5h2V425.5h-2z" fill="#fff"/><path d="M687.5 405V419M686.5 409.5h2V413.5h-2z" fill="#fff"/><path d="M688.5 401V411M687.5 402.5h2V409.5h-2z" fill="#fff"/><path d="M689.5 393V405M688.5 397.5h2V402.5h-2z" fill="#fff"/><path d="M691.5 391V409M690.5 397.5h2V399.5h-2z" fill="#000"/><path d="M692.5 395V401M691.5 398.5h2V399.5h-2z" fill="#fff"/><path d="M693.5 388V407M692.5 398.5h2V401.5h-2z" fill="#000"/><path d="M695.5 393V402M694.5 394.5h2V401.5h-2z" fill="#fff"/><path d="M696.5 389V400M695.5 394.5h2V397.5h-2z" fill="#000"/><path d="M697.5 378V402M696.5 386.5h2V397.5h-2z" fill="#fff"/><path d="M699.5 365V391M698.5 384.5h2V386.5h-2z" fill="#fff"/><path d="M700.5 378V397M699.5 384.5h2V396.5h-2z" fill="#000"/><path d="M701.5 394V402M700.5 396.5h2V397.5h-2z" fill="#000"/><path d="M702.5 392V403M701.5 396.5h2V397.5h-2z" fill="#000"/><path d="M704.5 389V411M703.5 396.5h2V400.5h-2z" fill="#000"/><path d="M705.5 388V407M704.5 391.5h2V400.5h-2z" fill="#fff"/><path d="M706.5 372V394M705.5 376.5h2V391.5h-2z" fill="#fff"/><path d="M708.5 366V381M707.5 371.5h2V376.5h-2z" fill="#fff"/><path d="M709.5 362V392M708.5 371.5h2V386.5h-2z" fill="#000"/><path d="M710.5 381V404M709.5 386.5h2V402.5h-2z" fill="#000"/><path d="M712.5 395V410M711.5 402.5h2V407.5h-2z" fill="#000"/><path d="M713.5 403V410M712.5 407.5h2V409.5h-2z" fill="#000"/><path d="M714.5 396V412M713.5 405.5h2V409.5h-2z" fill="#fff"/><path d="M715.5 399V410M714.5 401.5h2V405.5h-2z" fill="#fff"/><path d="M717.5 386V403M716.5 396.5h2V401.5h-2z" fill="#fff"/><path d="M718.5 383V397M717.5 385.5h2V396.5h-2z" fill="#fff"/><path d="M719.5 379V397M718.5 385.5h2V392.5h-2z" fill="#000"/><path d="M721.5 382V407M720.5 388.5h2V392.5h-2z" fill="#fff"/><path d="M722.5 384V397M721.5 388.5h2V393.5h-2z" fill="#000"/><path d="M723.5 390V397M722.5 392.5h2V393.5h-2z" fill="#fff"/><path d="M725.5 385V393M724.5 391.5h2V392.5h-2z" fill="#fff"/><path d="M726.5 390V397M725.5 391.5h2V393.5h-2z" fill="#000"/><path d="M727.5 389V408M726.5 393.5h2V402.5h-2z" fill="#000"/><path d="M728.5 392V420M727.5 402.5h2V406.5h-2z" fill="#000"/><path d="M730.5 405V408M729.5 406.5h2V407.5h-2z" fill="#000"/><path d="M731.5 398V421M730.5 406.5h2V415.5h-2z" fill="#000"/><path d="M732.5 413V427M731.5 415.5h2V419.5h-2z" fill="#000"/><path d="M734.5 415V424M733.5 419.5h2V423.5h-2z" fill="#000"/><path d="M735.5 418V430M734.5 421.5h2V423.5h-2z" fill="#fff"/><path d="M736.5 415V425M735.5 416.5h2V421.5h-2z" fill="#fff"/><path d="M738.5 397V417M737.5 403.5h2V416.5h-2z" fill="#fff"/><path d="M739.5 403V426M738.5 403.5h2V417.5h-2z" fill="#000"/><path d="M740.5 399V423M739.5 417.5h2V419.5h-2z" fill="#000"/><path d="M741.5 414V428M740.5 419.5h2V424.5h-2z" fill="#000"/><path d="M743.5 423V440M742.5 424.5h2V437.5h-2z" fill="#000"/><path d="M744.5 433V440M743.5 432.5h2V437.5h-2z" fill="#fff"/><path d="M745.5 415V435M744.5 417.5h2V432.5h-2z" fill="#fff"/><path d="M747.5 404V419M746.5 413.5h2V417.5h-2z" fill="#fff"/><path d="M748.5 396V420M747.5 403.5h2V413.5h-2z" fill="#fff"/><path d="M749.5 385V404M748.5 385.5h2V403.5h-2z" fill="#fff"/><path d="M751.5 383V390M750.5 384.5h2V385.5h-2z" fill="#fff"/><path d="M752.5 383V393M751.5 384.5h2V388.5h-2z" fill="#000"/><path d="M753.5 386V405M752.5 388.5h2V401.5h-2z" fill="#000"/><path d="M754.5 392V412M753.5 401.5h2V404.5h-2z" fill="#000"/><path d="M756.5 400V412M755.5 404.5h2V409.5h-2z" fill="#000"/><path d="M757.5 404V415M756.5 409.5h2V412.5h-2z" fill="#000"/><path d="M758.5 402V418M757.5 412.5h2V413.5h-2z" fill="#000"/><path d="M760.5 395V421M759.5 407.5h2V413.5h-2z" fill="#fff"/><path d="M761.5 400V411M760.5 407.5h2V408.5h-2z" fill="#fff"/><path d="M762.5 402V409M761.5 402.5h2V407.5h-2z" fill="#fff"/><path d="M764.5 392V412M763.5 402.5h2V407.5h-2z" fill="#000"/><path d="M765.5 402V426M764.5 407.5h2V415.5h-2z" fill="#000"/><path d="M766.5 413V428M765.5 415.5h2V423.5h-2z" fill="#000"/><path d="M767.5 413V449M766.5 423.5h2V440.5h-2z" fill="#000"/><path d="M769.5 427V452M768.5 440.5h2V452.5h-2z" fill="#000"/><path d="M770.5 452V459M769.5 452.5h2V453.5h-2z" fill="#000"/><path d="M771.5 451V458M770.5 452.5h2V453.5h-2z" fill="#fff"/><path d="M773.5 448V472M772.5 452.5h2V461.5h-2z" fill="#000"/><path d="M774.5 452V468M773.5 461.5h2V467.5h-2z" fill="#000"/><path d="M775.5 467V472M774.5 467.5h2V468.5h-2z" fill="#000"/><path d="M777.5 462V470M776.5 464.5h2V467.5h-2z" fill="#fff"/><path d="M778.5 454V465M777.5 458.5h2V464.5h-2z" fill="#fff"/><path d="M779.5 451V459M778.5 453.5h2V458.5h-2z" fill="#fff"/><path d="M780.5 448V458M779.5 453.5h2V456.5h-2z" fill="#000"/><path d="M782.5 455V465M781.5 456.5h2V464.5h-2z" fill="#000"/><path d="M783.5 457V480M782.5 464.5h2V472.5h-2z" fill="#000"/><path d="M784.5 470V479M783.5 472.5h2V475.5h-2z" fill="#000"/><path d="M786.5 474V491M785.5 475.5h2V486.5h-2z" fill="#000"/><path d="M787.5 483V488M786.5 482.5h2V486.5h-2z" fill="#fff"/><path d="M788.5 477V487M787.5 480.5h2V482.5h-2z" fill="#fff"/><path d="M790.5 475V493M789.5 480.5h2V485.5h-2z" fill="#000"/><path d="M791.5 471V488M790.5 474.5h2V485.5h-2z" fill="#fff"/><path d="M792.5 469V477M791.5 470.5h2V474.5h-2z" fill="#fff"/><path d="M793.5 452V474M792.5 462.5h2V470.5h-2z" fill="#fff"/><path d="M795.5 453V465M794.5 453.5h2V462.5h-2z" fill="#fff"/><path d="M796.5 441V461M795.5 446.5h2V453.5h-2z" fill="#fff"/><path d="M797.5 414V456M796.5 424.5h2V446.5h-2z" fill="#fff"/><path d="M799.5 411V437M798.5 414.5h2V424.5h-2z" fill="#fff"/><path d="M800.5 400V414M799.5 403.5h2V414.5h-2z" fill="#fff"/><path d="M801.5 398V405M800.5 400.5h2V403.5h-2z" fill="#fff"/><path d="M803.5 383V404M802.5 383.5h2V400.5h-2z" fill="#fff"/><path d="M804.5 366V388M803.5 372.5h2V383.5h-2z" fill="#fff"/><path d="M805.5 365V375M804.5 367.5h2V372.5h-2z" fill="#fff"/><path d="M806.5 354V370M805.5 356.5h2V367.5h-2z" fill="#fff"/><path d="M808.5 346V359M807.5 348.5h2V356.5h-2z" fill="#fff"/><path d="M809.5 341V351M808.5 348.5h2V350.5h-2z" fill="#000"/><path d="M810.5 344V360M809.5 344.5h2V350.5h-2z" fill="#fff"/><path d="M812.5 339V353M811.5 344.5h2V347.5h-2z" fill="#000"/><path d="M813.5 343V351M812.5 347.5h2V349.5h-2z" fill="#000"/><path d="M814.5 347V352M813.5 349.5h2V350.5h-2z" fill="#000"/><path d="M816.5 345V361M815.5 349.5h2V351.5h-2z" fill="#000"/><path d="M817.5 345V359M816.5 348.5h2V351.5h-2z" fill="#fff"/><path d="M818.5 334V353M817.5 339.5h2V348.5h-2z" fill="#fff"/><path d="M819.5 333V345M818.5 337.5h2V339.5h-2z" fill="#fff"/><path d="M821.5 336V340M820.5 337.5h2V338.5h-2z" fill="#000"/><path d="M822.5 330V341M821.5 331.5h2V337.5h-2z" fill="#fff"/><path d="M823.5 326V344M822.5 331.5h2V337.5h-2z" fill="#000"/><path d="M825.5 336V358M824.5 337.5h2V352.5h-2z" fill="#000"/><path d="M826.5 344V362M825.5 352.5h2V357.5h-2z" fill="#000"/><path d="M827.5 349V373M826.5 357.5h2V365.5h-2z" fill="#000"/><path d="M829.5 362V383M828.5 365.5h2V379.5h-2z" fill="#000"/><path d="M830.5 367V381M829.5 375.5h2V379.5h-2z" fill="#fff"/><path d="M831.5 361V380M830.5 363.5h2V375.5h-2z" fill="#fff"/><path d="M832.5 344V368M831.5 350.5h2V363.5h-2z" fill="#fff"/><path d="M834.5 348V355M833.5 349.5h2V350.5h-2z" fill="#fff"/><path d="M835.5 345V354M834.5 347.5h2V349.5h-2z" fill="#fff"/><path d="M836.5 345V352M835.5 347.5h2V349.5h-2z" fill="#000"/><path d="M838.5 335V357M837.5 344.5h2V349.5h-2z" fill="#fff"/><path d="M839.5 343V367M838.5 344.5h2V358.5h-2z" fill="#000"/><path d="M840.5 357V373M839.5 358.5h2V372.5h-2z" fill="#000"/><path d="M842.5 346V376M841.5 348.5h2V372.5h-2z" fill="#fff"/><path d="M843.5 339V353M842.5 340.5h2V348.5h-2z" fill="#fff"/><path d="M844.5 336V353M843.5 340.5h2V352.5h-2z" fill="#000"/><path d="M845.5 346V355M844.5 347.5h2V352.5h-2z" fill="#fff"/><path d="M847.5 344V364M846.5 347.5h2V358.5h-2z" fill="#000"/><path d="M848.5 357V363M847.5 358.5h2V359.5h-2z" fill="#000"/><path d="M849.5 352V364M848.5 359.5h2V360.5h-2z" fill="#000"/><path d="M851.5 359V360M850.5 359.5h2V360.5h-2z" fill="#fff"/><path d="M852.5 348V367M851.5 352.5h2V359.5h-2z" fill="#fff"/><path d="M853.5 352V359M852.5 352.5h2V357.5h-2z" fill="#000"/><path d="M855.5 353V378M854.5 357.5h2V371.5h-2z" fill="#000"/><path d="M856.5 368V379M855.5 371.5h2V377.5h-2z" fill="#000"/><path d="M857.5 371V404M856.5 377.5h2V397.5h-2z" fill="#000"/><path d="M858.5 394V420M857.5 397.5h2V408.5h-2z" fill="#000"/><path d="M860.5 409V415M859.5 408.5h2V412.5h-2z" fill="#000"/><path d="M861.5 392V418M860.5 394.5h2V412.5h-2z" fill="#fff"/><path d="M862.5 384V405M861.5 384.5h2V394.5h-2z" fill="#fff"/><path d="M864.5 374V386M863.5 374.5h2V384.5h-2z" fill="#fff"/><path d="M865.5 361V377M864.5 366.5h2V374.5h-2z" fill="#fff"/><path d="M866.5 358V371M865.5 366.5h2V367.5h-2z" fill="#000"/><path d="M868.5 366V378M867.5 366.5h2V367.5h-2z" fill="#fff"/><path d="M869.5 362V372M868.5 366.5h2V367.5h-2z" fill="#fff"/><path d="M870.5 358V376M869.5 366.5h2V373.5h-2z" fill="#000"/><path d="M871.5 367V383M870.5 373.5h2V379.5h-2z" fill="#000"/><path d="M873.5 371V381M872.5 373.5h2V379.5h-2z" fill="#fff"/><path d="M874.5 366V375M873.5 365.5h2V373.5h-2z" fill="#fff"/><path d="M875.5 363V376M874.5 365.5h2V366.5h-2z" fill="#000"/><path d="M877.5 366V375M876.5 366.5h2V367.5h-2z" fill="#000"/><path d="M878.5 354V369M877.5 362.5h2V367.5h-2z" fill="#fff"/><path d="M879.5 358V365M878.5 362.5h2V364.5h-2z" fill="#000"/><path d="M881.5 359V367M880.5 364.5h2V365.5h-2z" fill="#000"/><path d="M882.5 361V373M881.5 364.5h2V370.5h-2z" fill="#000"/><path d="M883.5 370V375M882.5 370.5h2V371.5h-2z" fill="#000"/><path d="M884.5 370V382M883.5 371.5h2V374.5h-2z" fill="#000"/><path d="M886.5 374V383M885.5 374.5h2V378.5h-2z" fill="#000"/><path d="M887.5 373V386M886.5 378.5h2V385.5h-2z" fill="#000"/><path d="M888.5 380V399M887.5 385.5h2V396.5h-2z" fill="#000"/><path d="M890.5 378V407M889.5 381.5h2V396.5h-2z" fill="#fff"/><path d="M891.5 371V387M890.5 375.5h2V381.5h-2z" fill="#fff"/><path d="M892.5 361V385M891.5 365.5h2V375.5h-2z" fill="#fff"/><path d="M894.5 352V368M893.5 360.5h2V365.5h-2z" fill="#fff"/><path d="M895.5 356V370M894.5 360.5h2V363.5h-2z" fill="#000"/><path d="M896.5 358V381M895.5 363.5h2V377.5h-2z" fill="#000"/><path d="M897.5 376V390M896.5 377.5h2V380.5h-2z" fill="#000"/><path d="M899.5 377V387M898.5 380.5h2V383.5h-2z" fill="#000"/><path d="M900.5 381V394M899.5 383.5h2V391.5h-2z" fill="#000"/><path d="M901.5 385V393M900.5 389.5h2V391.5h-2z" fill="#fff"/><path d="M903.5 386V404M902.5 389.5h2V395.5h-2z" fill="#000"/><path d="M904.5 393V397M903.5 395.5h2V396.5h-2z" fill="#fff"/><path d="M905.5 392V403M904.5 395.5h2V397.5h-2z" fill="#000"/><path d="M907.5 390V400M906.5 392.5h2V397.5h-2z" fill="#fff"/><path d="M908.5 381V393M907.5 381.5h2V392.5h-2z" fill="#fff"/><path d="M909.5 368V382M908.5 376.5h2V381.5h-2z" fill="#fff"/><path d="M910.5 366V381M909.5 373.5h2V376.5h-2z" fill="#fff"/><path d="M912.5 359V375M911.5 365.5h2V373.5h-2z" fill="#fff"/><path d="M913.5 358V370M912.5 363.5h2V365.5h-2z" fill="#fff"/><path d="M914.5 350V364M913.5 353.5h2V363.5h-2z" fill="#fff"/><path d="M916.5 353V355M915.5 353.5h2V354.5h-2z" fill="#000"/><path d="M917.5 348V366M916.5 354.5h2V362.5h-2z" fill="#000"/><path d="M918.5 349V372M917.5 358.5h2V362.5h-2z" fill="#fff"/><path d="M920.5 356V363M919.5 358.5h2V359.5h-2z" fill="#000"/><path d="M921.5 360V371M920.5 359.5h2V367.5h-2z" fill="#000"/><path d="M922.5 358V382M921.5 367.5h2V380.5h-2z" fill="#000"/><path d="M923.5 378V389M922.5 380.5h2V385.5h-2z" fill="#000"/><path d="M925.5 383V396M924.5 385.5h2V388.5h-2z" fill="#000"/><path d="M926.5 367V399M925.5 373.5h2V388.5h-2z" fill="#fff"/><path d="M927.5 360V382M926.5 364.5h2V373.5h-2z" fill="#fff"/><path d="M929.5 361V404M928.5 364.5h2V395.5h-2z" fill="#000"/><path d="M930.5 394V407M929.5 395.5h2V403.5h-2z" fill="#000"/><path d="M931.5 402V412M930.5 403.5h2V408.5h-2z" fill="#000"/><path d="M933.5 397V413M932.5 401.5h2V408.5h-2z" fill="#fff"/><path d="M934.5 388V409M933.5 395.5h2V401.5h-2z" fill="#fff"/><path d="M935.5 391V397M934.5 390.5h2V395.5h-2z" fill="#fff"/><path d="M936.5 381V394M935.5 388.5h2V390.5h-2z" fill="#fff"/><path d="M938.5 370V396M937.5 373.5h2V388.5h-2z" fill="#fff"/><path d="M939.5 351V381M938.5 362.5h2V373.5h-2z" fill="#fff"/><path d="M940.5 352V363M939.5 358.5h2V362.5h-2z" fill="#fff"/><path d="M942.5 351V363M941.5 354.5h2V358.5h-2z" fill="#fff"/><path d="M943.5 322V355M942.5 323.5h2V354.5h-2z" fill="#fff"/><path d="M944.5 323V328M943.5 323.5h2V325.5h-2z" fill="#000"/><path d="M946.5 304V330M945.5 317.5h2V325.5h-2z" fill="#fff"/><path d="M947.5 308V318M946.5 309.5h2V317.5h-2z" fill="#fff"/><path d="M948.5 306V315M947.5 309.5h2V313.5h-2z" fill="#000"/><path d="M949.5 314V315M948.5 313.5h2V314.5h-2z" fill="#000"/><path d="M951.5 309V329M950.5 314.5h2V320.5h-2z" fill="#000"/><path d="M952.5 313V326M951.5 314.5h2V320.5h-2z" fill="#fff"/><path d="M953.5 313V324M952.5 314.5h2V316.5h-2z" fill="#000"/><path d="M955.5 299V317M954.5 304.5h2V316.5h-2z" fill="#fff"/><path d="M956.5 301V312M955.5 304.5h2V306.5h-2z" fill="#000"/><path d="M957.5 301V316M956.5 306.5h2V307.5h-2z" fill="#000"/><path d="M959.5 305V313M958.5 307.5h2V311.5h-2z" fill="#000"/><path d="M960.5 310V323M959.5 311.5h2V317.5h-2z" fill="#000"/><path d="M961.5 313V321M960.5 317.5h2V318.5h-2z" fill="#000"/><path d="M962.5 318V322M961.5 318.5h2V319.5h-2z" fill="#000"/><path d="M964.5 310V325M963.5 313.5h2V319.5h-2z" fill="#fff"/><path d="M965.5 290V315M964.5 301.5h2V313.5h-2z" fill="#fff"/><path d="M966.5 282V313M965.5 291.5h2V301.5h-2z" fill="#fff"/><path d="M968.5 283V294M967.5 290.5h2V291.5h-2z" fill="#fff"/><path d="M969.5 290V296M968.5 290.5h2V294.5h-2z" fill="#000"/><path d="M970.5 291V305M969.5 294.5h2V298.5h-2z" fill="#000"/><path d="M972.5 297V308M971.5 298.5h2V301.5h-2z" fill="#000"/><path d="M973.5 295V309M972.5 301.5h2V306.5h-2z" fill="#000"/><path d="M974.5 299V311M973.5 301.5h2V306.5h-2z" fill="#fff"/><path d="M975.5 286V311M974.5 292.5h2V301.5h-2z" fill="#fff"/><path d="M977.5 285V293M976.5 288.5h2V292.5h-2z" fill="#fff"/><path d="M978.5 277V294M977.5 279.5h2V288.5h-2z" fill="#fff"/><path d="M979.5 266V283M978.5 272.5h2V279.5h-2z" fill="#fff"/><path d="M981.5 268V290M980.5 272.5h2V285.5h-2z" fill="#000"/><path d="M982.5 279V295M981.5 285.5h2V291.5h-2z" fill="#000"/><path d="M983.5 284V294M982.5 289.5h2V291.5h-2z" fill="#fff"/><path d="M985.5 287V299M984.5 289.5h2V296.5h-2z" fill="#000"/><path d="M986.5 292V304M985.5 296.5h2V299.5h-2z" fill="#000"/><path d="M987.5 283V307M986.5 291.5h2V299.5h-2z" fill="#fff"/><path d="M988.5 292V304M987.5 291.5h2V301.5h-2z" fill="#000"/><path d="M990.5 298V304M989.5 301.5h2V302.5h-2z" fill="#000"/><path d="M991.5 289V303M990.5 296.5h2V302.5h-2z" fill="#fff"/><path d="M992.5 289V303M991.5 289.5h2V296.5h-2z" fill="#fff"/><path d="M994.5 278V294M993.5 282.5h2V289.5h-2z" fill="#fff"/><path d="M995.5 280V284M994.5 282.5h2V283.5h-2z" fill="#fff"/><path d="M996.5 280V295M995.5 282.5h2V294.5h-2z" fill="#000"/><path d="M998.5 284V306M997.5 294.5h2V301.5h-2z" fill="#000"/><path d="M999.5 293V310M998.5 301.5h2V307.5h-2z" fill="#000"/><path d="M1000.5 307V319M999.5 307.5h2V316.5h-2z" fill="#000"/><path d="M1001.5 308V321M1000.5 316.5h2V320.5h-2z" fill="#000"/><path d="M1003.5 312V333M1002.5 320.5h2V326.5h-2z" fill="#000"/><path d="M1004.5 319V328M1003.5 322.5h2V326.5h-2z" fill="#fff"/><path d="M1005.5 314V324M1004.5 320.5h2V322.5h-2z" fill="#fff"/><path d="M1007.5 306V323M1006.5 306.5h2V320.5h-2z" fill="#fff"/><path d="M1008.5 302V308M1007.5 302.5h2V306.5h-2z" fill="#fff"/><path d="M1009.5 298V308M1008.5 298.5h2V302.5h-2z" fill="#fff"/><path d="M1011.5 291V301M1010.5 298.5h2V300.5h-2z" fill="#000"/><path d="M1012.5 290V305M1011.5 291.5h2V300.5h-2z" fill="#fff"/><path d="M1013.5 290V299M1012.5 291.5h2V293.5h-2z" fill="#000"/><path d="M1014.5 288V318M1013.5 293.5h2V312.5h-2z" fill="#000"/><path d="M1016.5 308V322M1015.5 312.5h2V316.5h-2z" fill="#000"/><path d="M1017.5 300V322M1016.5 309.5h2V316.5h-2z" fill="#fff"/><path d="M1018.5 304V317M1017.5 308.5h2V309.5h-2z" fill="#fff"/><path d="M1020.5 292V316M1019.5 297.5h2V308.5h-2z" fill="#fff"/><path d="M1021.5 293V307M1020.5 297.5h2V298.5h-2z" fill="#000"/><path d="M1022.5 284V302M1021.5 287.5h2V298.5h-2z" fill="#fff"/><path d="M1024.5 281V301M1023.5 282.5h2V287.5h-2z" fill="#fff"/><path d="M1025.5 275V284M1024.5 275.5h2V282.5h-2z" fill="#fff"/><path d="M1026.5 267V277M1025.5 269.5h2V275.5h-2z" fill="#fff"/><path d="M1027.5 260V273M1026.5 269.5h2V270.5h-2z" fill="#000"/><path d="M1029.5 261V281M1028.5 270.5h2V272.5h-2z" fill="#000"/><path d="M1030.5 267V277M1029.5 269.5h2V272.5h-2z" fill="#fff"/><path d="M1031.5 258V275M1030.5 260.5h2V269.5h-2z" fill="#fff"/><path d="M1033.5 256V271M1032.5 260.5h2V264.5h-2z" fill="#000"/><path d="M1034.5 259V265M1033.5 259.5h2V264.5h-2z" fill="#fff"/><path d="M1035.5 252V271M1034.5 259.5h2V264.5h-2z" fill="#000"/><path d="M1037.5 262V276M1036.5 264.5h2V269.5h-2z" fill="#000"/><path d="M1038.5 268V279M1037.5 269.5h2V270.5h-2z" fill="#000"/><path d="M1039.5 268V277M1038.5 269.5h2V274.5h-2z" fill="#000"/><path d="M1040.5 262V280M1039.5 267.5h2V274.5h-2z" fill="#fff"/><path d="M1042.5 263V281M1041.5 267.5h2V271.5h-2z" fill="#000"/><path d="M1043.5 262V272M1042.5 262.5h2V271.5h-2z" fill="#fff"/><path d="M1044.5 257V265M1043.5 258.5h2V262.5h-2z" fill="#fff"/><path d="M1046.5 244V259M1045.5 255.5h2V258.5h-2z" fill="#fff"/><path d="M1047.5 252V257M1046.5 252.5h2V255.5h-2z" fill="#fff"/><path d="M1048.5 247V262M1047.5 251.5h2V252.5h-2z" fill="#fff"/><path d="M1050.5 243V256M1049.5 245.5h2V251.5h-2z" fill="#fff"/><path d="M1051.5 234V246M1050.5 237.5h2V245.5h-2z" fill="#fff"/><path d="M1052.5 231V242M1051.5 234.5h2V237.5h-2z" fill="#fff"/><path d="M1053.5 229V243M1052.5 234.5h2V237.5h-2z" fill="#000"/><path d="M1055.5 227V240M1054.5 231.5h2V237.5h-2z" fill="#fff"/><path d="M1056.5 226V243M1055.5 228.5h2V231.5h-2z" fill="#fff"/><path d="M1057.5 226V229M1056.5 227.5h2V228.5h-2z" fill="#fff"/><path d="M1059.5 219V232M1058.5 221.5h2V227.5h-2z" fill="#fff"/><path d="M1060.5 208V223M1059.5 214.5h2V221.5h-2z" fill="#fff"/><path d="M1061.5 209V218M1060.5 212.5h2V214.5h-2z" fill="#fff"/><path d="M1063.5 206V218M1062.5 212.5h2V217.5h-2z" fill="#000"/><path d="M1064.5 208V219M1063.5 208.5h2V217.5h-2z" fill="#fff"/><path d="M1065.5 191V213M1064.5 206.5h2V208.5h-2z" fill="#fff"/><path d="M1066.5 202V207M1065.5 204.5h2V206.5h-2z" fill="#fff"/><path d="M1068.5 202V210M1067.5 204.5h2V206.5h-2z" fill="#000"/><path d="M1069.5 206V215M1068.5 206.5h2V208.5h-2z" fill="#000"/><path d="M1070.5 205V216M1069.5 205.5h2V208.5h-2z" fill="#fff"/><path d="M1072.5 186V208M1071.5 199.5h2V205.5h-2z" fill="#fff"/><path d="M1073.5 198V200M1072.5 199.5h2V200.5h-2z" fill="#000"/><path d="M1074.5 191V210M1073.5 199.5h2V206.5h-2z" fill="#000"/><path d="M1076.5 194V213M1075.5 200.5h2V206.5h-2z" fill="#fff"/><path d="M1077.5 189V206M1076.5 194.5h2V200.5h-2z" fill="#fff"/><path d="M1078.5 191V199M1077.5 194.5h2V195.5h-2z" fill="#000"/><path d="M1079.5 186V205M1078.5 188.5h2V194.5h-2z" fill="#fff"/><path d="M1081.5 181V196M1080.5 188.5h2V192.5h-2z" fill="#000"/><path d="M1082.5 190V206M1081.5 192.5h2V196.5h-2z" fill="#000"/><path d="M1083.5 196V212M1082.5 196.5h2V205.5h-2z" fill="#000"/><path d="M1085.5 202V212M1084.5 205.5h2V207.5h-2z" fill="#000"/><path d="M1086.5 200V210M1085.5 205.5h2V207.5h-2z" fill="#fff"/><path d="M1087.5 194V207M1086.5 198.5h2V205.5h-2z" fill="#fff"/><path d="M1089.5 187V214M1088.5 194.5h2V198.5h-2z" fill="#fff"/><path d="M1090.5 182V195M1089.5 187.5h2V194.5h-2z" fill="#fff"/><path d="M1091.5 181V191M1090.5 181.5h2V187.5h-2z" fill="#fff"/><path d="M1092.5 178V184M1091.5 180.5h2V181.5h-2z" fill="#fff"/><path d="M1094.5 169V182M1093.5 180.5h2V181.5h-2z" fill="#000"/><path d="M1095.5 176V186M1094.5 181.5h2V184.5h-2z" fill="#000"/><path d="M1096.5 171V187M1095.5 175.5h2V184.5h-2z" fill="#fff"/><path d="M1098.5 174V178M1097.5 174.5h2V175.5h-2z" fill="#fff"/><path d="M1099.5 167V179M1098.5 168.5h2V174.5h-2z" fill="#fff"/><path d="M1100.5 168V183M1099.5 168.5h2V176.5h-2z" fill="#000"/><path d="M1102.5 170V178M1101.5 174.5h2V176.5h-2z" fill="#fff"/><path d="M1103.5 168V180M1102.5 174.5h2V176.5h-2z" fill="#000"/><path d="M1104.5 174V183M1103.5 176.5h2V181.5h-2z" fill="#000"/><path d="M1105.5 159V189M1104.5 173.5h2V181.5h-2z" fill="#fff"/><path d="M1107.5 167V184M1106.5 173.5h2V176.5h-2z" fill="#000"/><path d="M1108.5 165V181M1107.5 174.5h2V176.5h-2z" fill="#fff"/><path d="M1109.5 159V177M1108.5 165.5h2V174.5h-2z" fill="#fff"/><path d="M1111.5 162V173M1110.5 165.5h2V170.5h-2z" fill="#000"/><path d="M1112.5 171V184M1111.5 170.5h2V182.5h-2z" fill="#000"/><path d="M1113.5 180V187M1112.5 182.5h2V183.5h-2z" fill="#000"/><path d="M1115.5 182V200M1114.5 183.5h2V196.5h-2z" fill="#000"/><path d="M1116.5 183V198M1115.5 186.5h2V196.5h-2z" fill="#fff"/><path d="M1117.5 169V193M1116.5 177.5h2V186.5h-2z" fill="#fff"/><path d="M1118.5 167V181M1117.5 169.5h2V177.5h-2z" fill="#fff"/><path d="M1120.5 168V198M1119.5 169.5h2V183.5h-2z" fill="#000"/><path d="M1121.5 182V191M1120.5 183.5h2V189.5h-2z" fill="#000"/><path d="M1122.5 185V212M1121.5 189.5h2V201.5h-2z" fill="#000"/><path d="M1124.5 200V208M1123.5 201.5h2V205.5h-2z" fill="#000"/><path d="M1125.5 203V221M1124.5 205.5h2V215.5h-2z" fill="#000"/><path d="M1126.5 210V222M1125.5 215.5h2V216.5h-2z" fill="#000"/><path d="M1128.5 206V217M1127.5 209.5h2V215.5h-2z" fill="#fff"/><path d="M1129.5 205V221M1128.5 209.5h2V213.5h-2z" fill="#000"/><path d="M1130.5 206V218M1129.5 209.5h2V213.5h-2z" fill="#fff"/><path d="M1131.5 200V214M1130.5 202.5h2V209.5h-2z" fill="#fff"/><path d="M1133.5 197V207M1132.5 202.5h2V204.5h-2z" fill="#000"/><path d="M1134.5 197V212M1133.5 204.5h2V209.5h-2z" fill="#000"/><path d="M1135.5 206V226M1134.5 209.5h2V220.5h-2z" fill="#000"/><path d="M1137.5 217V223M1136.5 220.5h2V221.5h-2z" fill="#fff"/><path d="M1138.5 215V220M1137.5 215.5h2V220.5h-2z" fill="#fff"/><path d="M1139.5 206V219M1138.5 212.5h2V215.5h-2z" fill="#fff"/><path d="M1141.5 203V212M1140.5 205.5h2V212.5h-2z" fill="#fff"/><path d="M1142.5 198V212M1141.5 205.5h2V206.5h-2z" fill="#000"/><path d="M1143.5 203V209M1142.5 204.5h2V206.5h-2z" fill="#fff"/><path d="M1144.5 203V208M1143.5 204.5h2V205.5h-2z" fill="#fff"/><path d="M1146.5 204V215M1145.5 204.5h2V212.5h-2z" fill="#000"/><path d="M1147.5 211V222M1146.5 212.5h2V216.5h-2z" fill="#000"/><path d="M1148.5 209V220M1147.5 216.5h2V217.5h-2z" fill="#000"/><path d="M1150.5 210V222M1149.5 217.5h2V218.5h-2z" fill="#000"/><path d="M1151.5 214V224M1150.5 218.5h2V221.5h-2z" fill="#000"/><path d="M1152.5 221V233M1151.5 221.5h2V229.5h-2z" fill="#000"/><path d="M1154.5 227V244M1153.5 229.5h2V235.5h-2z" fill="#000"/><path d="M1155.5 232V240M1154.5 232.5h2V235.5h-2z" fill="#fff"/><path d="M1156.5 230V254M1155.5 232.5h2V239.5h-2z" fill="#000"/><path d="M1157.5 230V241M1156.5 233.5h2V239.5h-2z" fill="#fff"/><path d="M1159.5 205V236M1158.5 218.5h2V233.5h-2z" fill="#fff"/><path d="M1160.5 215V219M1159.5 215.5h2V218.5h-2z" fill="#fff"/><path d="M1161.5 201V217M1160.5 208.5h2V215.5h-2z" fill="#fff"/><path d="M1163.5 201V214M1162.5 201.5h2V208.5h-2z" fill="#fff"/><path d="M1164.5 197V202M1163.5 200.5h2V201.5h-2z" fill="#fff"/><path d="M1165.5 201V206M1164.5 200.5h2V203.5h-2z" fill="#000"/><path d="M1167.5 193V204M1166.5 196.5h2V203.5h-2z" fill="#fff"/><path d="M1168.5 189V199M1167.5 195.5h2V196.5h-2z" fill="#fff"/><path d="M1169.5 187V196M1168.5 190.5h2V195.5h-2z" fill="#fff"/><path d="M1170.5 186V199M1169.5 190.5h2V197.5h-2z" fill="#000"/><path d="M1172.5 187V200M1171.5 189.5h2V197.5h-2z" fill="#fff"/><path d="M1173.5 188V204M1172.5 189.5h2V191.5h-2z" fill="#000"/><path d="M1174.5 182V192M1173.5 182.5h2V191.5h-2z" fill="#fff"/><path d="M1176.5 182V188M1175.5 182.5h2V183.5h-2z" fill="#000"/><path d="M1177.5 176V189M1176.5 182.5h2V188.5h-2z" fill="#000"/><path d="M1178.5 175V192M1177.5 178.5h2V188.5h-2z" fill="#fff"/><path d="M1180.5 172V184M1179.5 174.5h2V178.5h-2z" fill="#fff"/><path d="M1181.5 169V186M1180.5 174.5h2V175.5h-2z" fill="#000"/><path d="M1182.5 169V192M1181.5 175.5h2V186.5h-2z" fill="#000"/><path d="M1183.5 168V189M1182.5 175.5h2V186.5h-2z" fill="#fff"/><path d="M1185.5 166V182M1184.5 174.5h2V175.5h-2z" fill="#fff"/><path d="M1186.5 155V177M1185.5 161.5h2V174.5h-2z" fill="#fff"/><path d="M1187.5 123V168M1186.5 133.5h2V161.5h-2z" fill="#fff"/><path d="M1189.5 126V143M1188.5 133.5h2V140.5h-2z" fill="#000"/><path d="M1190.5 134V145M1189.5 134.5h2V140.5h-2z" fill="#fff"/><path d="M1191.5 134V152M1190.5 134.5h2V146.5h-2z" fill="#000"/><path d="M1193.5 146V151M1192.5 146.5h2V147.5h-2z" fill="#000"/><path d="M1194.5 147V160M1193.5 147.5h2V152.5h-2z" fill="#000"/><path d="M1195.5 147V181M1194.5 152.5h2V164.5h-2z" fill="#000"/><path d="M1196.5 163V176M1195.5 164.5h2V168.5h-2z" fill="#000"/><path d="M1198.5 155V178M1197.5 161.5h2V168.5h-2z" fill="#fff"/><path d="M1199.5 153V164M1198.5 155.5h2V161.5h-2z" fill="#fff"/><path d="M1200.5 155V169M1199.5 155.5h2V159.5h-2z" fill="#000"/><path d="M1202.5 158V172M1201.5 159.5h2V166.5h-2z" fill="#000"/><path d="M1203.5 154V168M1202.5 165.5h2V166.5h-2z" fill="#fff"/><path d="M1204.5 161V182M1203.5 165.5h2V174.5h-2z" fill="#000"/><path d="M1206.5 170V184M1205.5 174.5h2V180.5h-2z" fill="#000"/><path d="M1207.5 168V186M1206.5 178.5h2V180.5h-2z" fill="#fff"/><path d="M1208.5 158V189M1207.5 160.5h2V178.5h-2z" fill="#fff"/><path d="M1209.5 148V168M1208.5 154.5h2V160.5h-2z" fill="#fff"/><path d="M1211.5 147V157M1210.5 149.5h2V154.5h-2z" fill="#fff"/><path d="M1212.5 136V163M1211.5 148.5h2V149.5h-2z" fill="#fff"/><path d="M1213.5 148V161M1212.5 148.5h2V159.5h-2z" fill="#000"/><path d="M1215.5 147V169M1214.5 158.5h2V159.5h-2z" fill="#fff"/><path d="M1216.5 147V173M1215.5 158.5h2V172.5h-2z" fill="#000"/><path d="M1217.5 167V182M1216.5 172.5h2V174.5h-2z" fill="#000"/><path d="M1219.5 172V179M1218.5 174.5h2V177.5h-2z" fill="#000"/><path d="M1220.5 171V179M1219.5 172.5h2V177.5h-2z" fill="#fff"/><path d="M1221.5 158V183M1220.5 164.5h2V172.5h-2z" fill="#fff"/><path d="M1222.5 157V176M1221.5 159.5h2V164.5h-2z" fill="#fff"/><path d="M1224.5 158V175M1223.5 159.5h2V175.5h-2z" fill="#000"/><path d="M1225.5 174V193M1224.5 175.5h2V183.5h-2z" fill="#000"/><path d="M1226.5 183V196M1225.5 183.5h2V194.5h-2z" fill="#000"/><path d="M1228.5 187V195M1227.5 191.5h2V194.5h-2z" fill="#fff"/><path d="M1229.5 189V195M1228.5 191.5h2V193.5h-2z" fill="#000"/><path d="M1230.5 175V196M1229.5 191.5h2V193.5h-2z" fill="#fff"/><path d="M1232.5 187V214M1231.5 191.5h2V203.5h-2z" fill="#000"/><path d="M1233.5 199V215M1232.5 203.5h2V210.5h-2z" fill="#000"/><path d="M1234.5 207V217M1233.5 210.5h2V212.5h-2z" fill="#000"/><path d="M1235.5 209V235M1234.5 212.5h2V227.5h-2z" fill="#000"/><path d="M1237.5 222V246M1236.5 227.5h2V238.5h-2z" fill="#000"/><path d="M1238.5 236V245M1237.5 238.5h2V245.5h-2z" fill="#000"/><path d="M1239.5 241V259M1238.5 245.5h2V254.5h-2z" fill="#000"/><path d="M1241.5 250V268M1240.5 254.5h2V265.5h-2z" fill="#000"/><path d="M1242.5 257V280M1241.5 259.5h2V265.5h-2z" fill="#fff"/><path d="M1243.5 252V266M1242.5 258.5h2V259.5h-2z" fill="#fff"/><path d="M1245.5 258V265M1244.5 258.5h2V261.5h-2z" fill="#000"/><path d="M1246.5 262V267M1245.5 261.5h2V265.5h-2z" fill="#000"/><path d="M1247.5 259V268M1246.5 265.5h2V266.5h-2z" fill="#000"/><path d="M1248.5 255V270M1247.5 260.5h2V265.5h-2z" fill="#fff"/><path d="M1250.5 260V266M1249.5 260.5h2V265.5h-2z" fill="#000"/><path d="M1251.5 262V277M1250.5 265.5h2V269.5h-2z" fill="#000"/><path d="M1252.5 256V272M1251.5 262.5h2V269.5h-2z" fill="#fff"/><path d="M1254.5 243V277M1253.5 249.5h2V262.5h-2z" fill="#fff"/><path d="M1255.5 233V255M1254.5 239.5h2V249.5h-2z" fill="#fff"/><path d="M1256.5 232V242M1255.5 235.5h2V239.5h-2z" fill="#fff"/><path d="M1258.5 220V243M1257.5 232.5h2V235.5h-2z" fill="#fff"/><path d="M1259.5 227V236M1258.5 230.5h2V232.5h-2z" fill="#fff"/><path d="M1260.5 228V240M1259.5 230.5h2V238.5h-2z" fill="#000"/><path d="M1261.5 238V254M1260.5 238.5h2V254.5h-2z" fill="#000"/><path d="M1263.5 244V271M1262.5 254.5h2V263.5h-2z" fill="#000"/><path d="M1264.5 263V277M1263.5 263.5h2V269.5h-2z" fill="#000"/><path d="M1265.5 261V272M1264.5 263.5h2V269.5h-2z" fill="#fff"/><path d="M1267.5 261V267M1266.5 262.5h2V263.5h-2z" fill="#fff"/><path d="M1268.5 245V270M1267.5 250.5h2V262.5h-2z" fill="#fff"/><path d="M1269.5 244V251M1268.5 245.5h2V250.5h-2z" fill="#fff"/><path d="M1271.5 244V255M1270.5 245.5h2V250.5h-2z" fill="#000"/><path d="M1272.5 244V256M1271.5 248.5h2V250.5h-2z" fill="#fff"/><path d="M1273.5 235V262M1272.5 240.5h2V248.5h-2z" fill="#fff"/><path d="M1274.5 229V241M1273.5 237.5h2V240.5h-2z" fill="#fff"/><path d="M1276.5 229V243M1275.5 233.5h2V237.5h-2z" fill="#fff"/><path d="M1277.5 203V243M1276.5 217.5h2V233.5h-2z" fill="#fff"/><path d="M1278.5 208V225M1277.5 208.5h2V217.5h-2z" fill="#fff"/><path d="M1280.5 187V214M1279.5 186.5h2V208.5h-2z" fill="#fff"/><path d="M1281.5 173V192M1280.5 174.5h2V186.5h-2z" fill="#fff"/><path d="M1282.5 157V175M1281.5 164.5h2V174.5h-2z" fill="#fff"/><path d="M1284.5 158V168M1283.5 160.5h2V164.5h-2z" fill="#fff"/><path d="M1285.5 154V165M1284.5 158.5h2V160.5h-2z" fill="#fff"/><path d="M1286.5 157V171M1285.5 158.5h2V163.5h-2z" fill="#000"/><path d="M1287.5 163V179M1286.5 163.5h2V167.5h-2z" fill="#000"/><path d="M1289.5 156V169M1288.5 164.5h2V167.5h-2z" fill="#fff"/><path d="M1290.5 156V165M1289.5 162.5h2V164.5h-2z" fill="#fff"/><path d="M1291.5 158V165M1290.5 158.5h2V162.5h-2z" fill="#fff"/><path d="M1293.5 149V161M1292.5 155.5h2V158.5h-2z" fill="#fff"/><path d="M1294.5 149V162M1293.5 155.5h2V161.5h-2z" fill="#000"/><path d="M1295.5 156V165M1294.5 157.5h2V161.5h-2z" fill="#fff"/><path d="M1297.5 153V170M1296.5 157.5h2V161.5h-2z" fill="#000"/><path d="M1298.5 145V163M1297.5 152.5h2V161.5h-2z" fill="#fff"/><path d="M1299.5 132V163M1298.5 137.5h2V152.5h-2z" fill="#fff"/><path d="M1300.5 125V139M1299.5 125.5h2V137.5h-2z" fill="#fff"/><path d="M1302.5 110V133M1301.5 117.5h2V125.5h-2z" fill="#fff"/><path d="M1303.5 103V120M1302.5 104.5h2V117.5h-2z" fill="#fff"/><path d="M1304.5 91V108M1303.5 92.5h2V104.5h-2z" fill="#fff"/><path d="M1306.5 89V105M1305.5 92.5h2V101.5h-2z" fill="#000"/><path d="M1307.5 100V131M1306.5 101.5h2V124.5h-2z" fill="#000"/><path d="M1308.5 123V139M1307.5 124.5h2V137.5h-2z" fill="#000"/><path d="M1310.5 123V150M1309.5 137.5h2V138.5h-2z" fill="#000"/><path d="M1311.5 137V154M1310.5 138.5h2V147.5h-2z" fill="#000"/><path d="M1312.5 130V149M1311.5 139.5h2V147.5h-2z" fill="#fff"/><path d="M1313.5 133V143M1312.5 133.5h2V139.5h-2z" fill="#fff"/><path d="M1315.5 131V141M1314.5 133.5h2V135.5h-2z" fill="#000"/><path d="M1316.5 132V138M1315.5 135.5h2V137.5h-2z" fill="#000"/><path d="M1317.5 134V148M1316.5 137.5h2V144.5h-2z" fill="#000"/><path d="M1319.5 122V145M1318.5 123.5h2V144.5h-2z" fill="#fff"/><path d="M1320.5 112V130M1319.5 113.5h2V123.5h-2z" fill="#fff"/><path d="M1321.5 94V115M1320.5 97.5h2V113.5h-2z" fill="#fff"/><path d="M1323.5 97V107M1322.5 97.5h2V102.5h-2z" fill="#000"/><path d="M1324.5 100V111M1323.5 102.5h2V106.5h-2z" fill="#000"/><path d="M1325.5 106V120M1324.5 106.5h2V117.5h-2z" fill="#000"/><path d="M1326.5 111V131M1325.5 117.5h2V122.5h-2z" fill="#000"/><path d="M1328.5 121V137M1327.5 122.5h2V130.5h-2z" fill="#000"/><path d="M1329.5 129V148M1328.5 130.5h2V140.5h-2z" fill="#000"/><path d="M1330.5 139V142M1329.5 139.5h2V140.5h-2z" fill="#fff"/><path d="M1332.5 131V142M1331.5 136.5h2V139.5h-2z" fill="#fff"/><path d="M1333.5 132V141M1332.5 133.5h2V136.5h-2z" fill="#fff"/><path d="M1334.5 127V144M1333.5 133.5h2V139.5h-2z" fill="#000"/><path d="M1336.5 137V145M1335.5 138.5h2V139.5h-2z" fill="#fff"/><path d="M1337.5 133V145M1336.5 138.5h2V139.5h-2z" fill="#000"/><path d="M1338.5 128V141M1337.5 130.5h2V139.5h-2z" fill="#fff"/><path d="M1339.5 111V133M1338.5 120.5h2V130.5h-2z" fill="#fff"/><path d="M1341.5 102V126M1340.5 107.5h2V120.5h-2z" fill="#fff"/><path d="M1342.5 99V110M1341.5 100.5h2V107.5h-2z" fill="#fff"/><path d="M1343.5 100V106M1342.5 100.5h2V101.5h-2z" fill="#000"/><path d="M1345.5 95V104M1344.5 100.5h2V103.5h-2z" fill="#000"/><path d="M1346.5 96V125M1345.5 103.5h2V119.5h-2z" fill="#000"/><path d="M1347.5 113V134M1346.5 119.5h2V132.5h-2z" fill="#000"/><path d="M1349.5 121V134M1348.5 127.5h2V132.5h-2z" fill="#fff"/><path d="M1350.5 115V132M1349.5 118.5h2V127.5h-2z" fill="#fff"/><path d="M1351.5 100V120M1350.5 111.5h2V118.5h-2z" fill="#fff"/><path d="M1352.5 99V114M1351.5 105.5h2V111.5h-2z" fill="#fff"/><path d="M1354.5 95V113M1353.5 105.5h2V112.5h-2z" fill="#000"/><path d="M1355.5 105V120M1354.5 109.5h2V112.5h-2z" fill="#fff"/><path d="M1356.5 100V110M1355.5 100.5h2V109.5h-2z" fill="#fff"/><path d="M1358.5 89V107M1357.5 92.5h2V100.5h-2z" fill="#fff"/><path d="M1359.5 74V102M1358.5 74.5h2V92.5h-2z" fill="#fff"/><path d="M1360.5 72V82M1359.5 74.5h2V79.5h-2z" fill="#000"/><path d="M1362.5 71V86M1361.5 79.5h2V81.5h-2z" fill="#000"/><path d="M1363.5 79V99M1362.5 81.5h2V97.5h-2z" fill="#000"/><path d="M1364.5 97V124M1363.5 97.5h2V116.5h-2z" fill="#000"/><path d="M1365.5 109V133M1364.5 116.5h2V129.5h-2z" fill="#000"/><path d="M1367.5 128V153M1366.5 129.5h2V147.5h-2z" fill="#000"/><path d="M1368.5 139V151M1367.5 147.5h2V148.5h-2z" fill="#fff"/><path d="M1369.5 134V151M1368.5 140.5h2V147.5h-2z" fill="#fff"/><path d="M1371.5 130V155M1370.5 140.5h2V154.5h-2z" fill="#000"/><path d="M768.5 445V504M641.5 490V507M651.5 490V504"/><path d="M1365.5 153.5h3V181.5h-3z" fill="#fff"/><path d="M1370 108V181M1368.5 112.5h3V179.5h-3z" fill="#000"/></g>
<line x1="1090.3" y1="168.7" x2="1400.4" y2="46.8" stroke="#0a5fd0" stroke-width="1.2"/>
<polygon points="1092.3,157.1 1400.4,42.9 1400.4,53.6 1094.8,165.3" fill="#ff0000" fill-opacity="0.47"/>
<line x1="1091.2" y1="223.3" x2="1404.5" y2="338.5" stroke="#0a5fd0" stroke-width="1.2"/>
<polygon points="1090.1,217.0 1404.2,325.3 1404.2,335.7 1087.1,226.6" fill="#ff0000" fill-opacity="0.47"/>
<path d="M925.8,404.3L1114.5,166" stroke="#0000ff" stroke-opacity="0.5" stroke-width="11" fill="none"/>
<path d="M1114.5,166L1144.3,231.5" stroke="#0000ff" stroke-opacity="0.5" stroke-width="11" fill="none"/>
<path d="M1144.3,231.5L1190.5,133.4" stroke="#0000ff" stroke-opacity="0.5" stroke-width="11" fill="none"/>
<path d="M1190.5,133.4L1255,267" stroke="#0000ff" stroke-opacity="0.5" stroke-width="11" fill="none"/>
<path d="M1255,267L1356,78.4" stroke="#0000ff" stroke-opacity="0.5" stroke-width="11" fill="none"/>
<path d="M1356,78.4L1380,187.4" stroke="#0000ff" stroke-opacity="0.5" stroke-width="11" fill="none"/>
<polygon points="1374.2,199.7 1392.8,194.9 1412.5,278.5 1423.9,275.2 1413.2,312.4 1385.8,285 1393.9,282.8" fill="#ff00ff"/>
<g font-weight="bold" font-size="15.3" fill="#000" stroke="#000" stroke-width="0.35">
<text x="1420.3" y="199" letter-spacing="1.32">PELIGRO : TRIANGULACIÓN EXPANSIVA</text>
<text x="1324" y="361.8" letter-spacing="1.265">CONCORDANTE CON UNA CORRECCIÓN AL 61,8%</text>
<text x="1240.5" y="646.3" letter-spacing="1.24">WWW.INVERTIRYESPECULAR.COM</text>
</g>
<rect x="1800" y="13" width="61" height="683" fill="#f2f3f5"/>
<path d="M1800.5 13V696M1800 13.5H1861" stroke="#404040" stroke-width="1"/>
<rect x="1859.5" y="16.5" width="4" height="21" fill="#fff" stroke="#999"/>
<path d="M1801 53.5h6M1801 63.5h3M1801 73.5h3M1801 83.5h3M1801 93.5h6M1801 103.5h3M1801 113.5h3M1801 123.5h3M1801 133.5h6M1801 143.5h3M1801 153.5h3M1801 163.5h3M1801 174.5h6M1801 184.5h3M1801 194.5h3M1801 204.5h3M1801 214.5h6M1801 224.5h3M1801 234.5h3M1801 244.5h3M1801 254.5h6M1801 264.5h3M1801 274.5h3M1801 284.5h3M1801 295.5h6M1801 305.5h3M1801 315.5h3M1801 325.5h3M1801 335.5h6M1801 345.5h3M1801 355.5h3M1801 365.5h3M1801 375.5h6M1801 385.5h3M1801 395.5h3M1801 405.5h3M1801 416.5h6M1801 426.5h3M1801 436.5h3M1801 446.5h3M1801 456.5h6M1801 466.5h3M1801 476.5h3M1801 486.5h3M1801 496.5h6M1801 506.5h3M1801 516.5h3M1801 526.5h3M1801 537.5h6M1801 547.5h3M1801 557.5h3M1801 567.5h3M1801 577.5h6M1801 587.5h3M1801 597.5h3M1801 607.5h3M1801 617.5h6M1801 627.5h3M1801 637.5h3M1801 647.5h3M1801 658.5h6" stroke="#404040" stroke-width="1"/>
<g font-size="15.5" fill="#1e1e1e">
<text x="1811.5" y="704.2" textLength="15.7" lengthAdjust="spacingAndGlyphs">30</text>
<text x="1811.5" y="664.2" textLength="15.7" lengthAdjust="spacingAndGlyphs">35</text>
<text x="1811.5" y="623.2" textLength="15.7" lengthAdjust="spacingAndGlyphs">40</text>
<text x="1811.5" y="583.2" textLength="15.7" lengthAdjust="spacingAndGlyphs">45</text>
<text x="1811.5" y="543.2" textLength="15.7" lengthAdjust="spacingAndGlyphs">50</text>
<text x="1811.5" y="502.2" textLength="15.7" lengthAdjust="spacingAndGlyphs">55</text>
<text x="1811.5" y="462.2" textLength="15.7" lengthAdjust="spacingAndGlyphs">60</text>
<text x="1811.5" y="422.2" textLength="15.7" lengthAdjust="spacingAndGlyphs">65</text>
<text x="1811.5" y="381.2" textLength="15.7" lengthAdjust="spacingAndGlyphs">70</text>
<text x="1811.5" y="341.2" textLength="15.7" lengthAdjust="spacingAndGlyphs">75</text>
<text x="1811.5" y="301.2" textLength="15.7" lengthAdjust="spacingAndGlyphs">80</text>
<text x="1811.5" y="260.2" textLength="15.7" lengthAdjust="spacingAndGlyphs">85</text>
<text x="1811.5" y="220.2" textLength="15.7" lengthAdjust="spacingAndGlyphs">90</text>
<text x="1811.5" y="139.2" textLength="23.5" lengthAdjust="spacingAndGlyphs">100</text>
<text x="1811.5" y="99.2" textLength="23.5" lengthAdjust="spacingAndGlyphs">105</text>
<text x="1811.5" y="59.2" textLength="23.5" lengthAdjust="spacingAndGlyphs">110</text>
</g>
<rect x="1810" y="140" width="41" height="24.7" fill="#3d8ee6"/>
<rect x="1810" y="167" width="41" height="24.7" fill="#3d8ee6"/>
<g font-size="15.5" fill="#fff"><text x="1812.3" y="160" textLength="34" lengthAdjust="spacingAndGlyphs">97,69</text><text x="1812.3" y="187" textLength="34" lengthAdjust="spacingAndGlyphs">94,38</text></g>
<g stroke="#404040" stroke-width="1" fill="none"><path d="M1801.5 152.5h8M1801.5 152.5l3.5-3.5M1801.5 152.5l3.5 3.5"/><path d="M1801.5 179.5h8M1801.5 179.5l3.5-3.5M1801.5 179.5l3.5 3.5"/></g>
<rect x="0" y="0" width="1861" height="13" fill="#d7d7d7"/>
<rect x="1841" y="1" width="11" height="10" fill="#fff"/><path d="M1843 9.5h8" stroke="#444" stroke-width="1.2"/>
<rect x="1853" y="1" width="8" height="10" fill="#fff"/><rect x="1855.5" y="4" width="8" height="6" fill="none" stroke="#444" stroke-width="1.2"/>
<g font-size="12" fill="#1a1a1a">
<text x="0" y="11" fill="#1a1a1a">- SAP SE O.N. -</text>
<text x="93.5" y="11" fill="#1a1a1a">1 d</text>
<text x="117.7" y="11" fill="#1a1a1a">Dif. %:</text>
<text x="159.6" y="11" fill="#e05555">-5,94</text>
<text x="192.8" y="11" fill="#1a1a1a">Dif.:</text>
<text x="219.9" y="11" fill="#e05555">-5,96</text>
<text x="253" y="11" fill="#1a1a1a">M: 98,87</text>
<text x="308" y="11" fill="#1a1a1a">m: 94,38</text>
<text x="361.7" y="11" fill="#1a1a1a">F: 18-10-2018</text>
<text x="445.9" y="11" fill="#ff1010">P : 109,58</text>
</g>
<rect x="0" y="696" width="1861" height="35" fill="#f0f0f0"/>
<rect x="0" y="719" width="1861" height="1" fill="#fafafa"/>
<rect x="0" y="720" width="1861" height="11" fill="#ececec"/>
<path d="M0 696.5H1861" stroke="#333" stroke-width="1"/>
<path d="M76.5 696V706M267.5 696V706M457.5 696V706M647.5 696V706M837.5 696V706M1028.5 696V706M1218.5 696V706M1410.5 696V706M1606.5 696V706M1606.5 687V696" stroke="#404040" stroke-width="1"/>
<g font-size="15.6" fill="#1e1e1e">
<text x="78.0" y="717" textLength="31" lengthAdjust="spacingAndGlyphs">2012</text>
<text x="269.0" y="717" textLength="31" lengthAdjust="spacingAndGlyphs">2013</text>
<text x="459.0" y="717" textLength="31" lengthAdjust="spacingAndGlyphs">2014</text>
<text x="649.0" y="717" textLength="31" lengthAdjust="spacingAndGlyphs">2015</text>
<text x="839.0" y="717" textLength="31" lengthAdjust="spacingAndGlyphs">2016</text>
<text x="1030.0" y="717" textLength="31" lengthAdjust="spacingAndGlyphs">2017</text>
<text x="1220.0" y="717" textLength="31" lengthAdjust="spacingAndGlyphs">2018</text>
<text x="1412.0" y="717" textLength="31" lengthAdjust="spacingAndGlyphs">2019</text>
<text x="1608.0" y="717" textLength="31" lengthAdjust="spacingAndGlyphs">2020</text>
<text x="1608" y="691" textLength="31" lengthAdjust="spacingAndGlyphs">2020</text>
</g>
<defs><linearGradient id="sg" x1="0" y1="0" x2="0" y2="1"><stop offset="0" stop-color="#f6f6f6"/><stop offset="0.5" stop-color="#e8e8e8"/><stop offset="0.55" stop-color="#d6d6d6"/><stop offset="1" stop-color="#cfcfcf"/></linearGradient></defs>
<rect x="1138.5" y="720.5" width="720" height="12" rx="1.5" fill="url(#sg)" stroke="#8a8a8a" stroke-width="1"/>
<path d="M1494.5 722.5V731M1498.5 722.5V731M1502.5 722.5V731" stroke="#fff" stroke-width="1"/><path d="M1493.8 723V731M1497.8 723V731M1501.8 723V731" stroke="#333" stroke-width="1.1"/>
<rect x="1801.5" y="701.5" width="17" height="16" fill="#fff" stroke="#9a9a9a"/>
<path d="M1806 707.4L1808.5 704.3L1812.4 709.1L1815.8 705.1" stroke="#8a8a8a" stroke-width="1.1" fill="none"/><path d="M1806 710.5L1808.5 707.4L1812.4 712.7L1815.8 708.5" stroke="#3b9be0" stroke-width="1.3" fill="none"/>
<rect x="1823.5" y="701.5" width="35" height="16" fill="#fff" stroke="#9a9a9a"/>
<rect x="1828" y="703" width="12" height="12" fill="#8048c0"/><rect x="1830" y="703.3" width="8" height="5.7" fill="#fff"/><rect x="1831" y="711" width="6" height="3.5" fill="#fff"/><circle cx="1832.5" cy="712.5" r="0.7" fill="#8048c0"/>
<path d="M1847 709.5h3M1850.5 706v7M1850.5 707.5h4v3.5h-4" stroke="#333" stroke-width="1.2" fill="none"/><path d="M1850.5 710.8h4" stroke="#333" stroke-width="1.6"/>
<rect x="0" y="657" width="44" height="17" fill="#3d8ee6"/>
<text x="0.5" y="670" font-size="11.5" fill="#111">órdenes</text>
</svg></body></html>
